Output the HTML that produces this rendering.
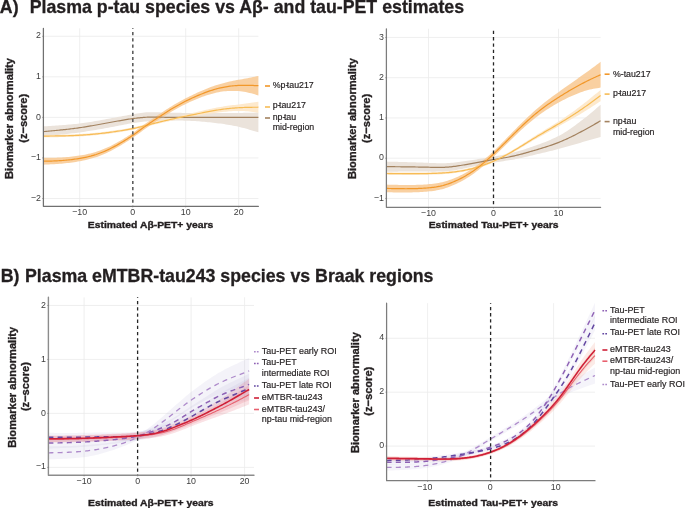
<!DOCTYPE html>
<html><head><meta charset="utf-8"><style>
html,body{margin:0;padding:0;background:#fff;}
body{width:685px;height:508px;overflow:hidden;}
svg{display:block;font-family:"Liberation Sans", sans-serif;will-change:transform;}
</style></head><body>
<svg width="685" height="508" viewBox="0 0 685 508">
<rect width="685" height="508" fill="#fff"/>
<text x="-0.2" y="12.8" font-size="17.75" font-weight="bold" fill="#231f20" stroke="#231f20" stroke-width="0.3">A)</text>
<text x="29.7" y="12.8" font-size="17.75" font-weight="bold" fill="#231f20" stroke="#231f20" stroke-width="0.3">Plasma p-tau species vs A&#946;- and tau-PET estimates</text>
<text x="0.7" y="281.5" font-size="17.75" font-weight="bold" fill="#231f20" stroke="#231f20" stroke-width="0.3">B)</text>
<text x="25.0" y="281.5" font-size="17.75" font-weight="bold" fill="#231f20" stroke="#231f20" stroke-width="0.3">Plasma eMTBR-tau243 species vs Braak regions</text>
<line x1="43.40" y1="198.50" x2="258.40" y2="198.50" stroke="#ebebeb" stroke-width="0.8"/>
<line x1="43.40" y1="157.95" x2="258.40" y2="157.95" stroke="#ebebeb" stroke-width="0.8"/>
<line x1="43.40" y1="117.40" x2="258.40" y2="117.40" stroke="#ebebeb" stroke-width="0.8"/>
<line x1="43.40" y1="76.85" x2="258.40" y2="76.85" stroke="#ebebeb" stroke-width="0.8"/>
<line x1="43.40" y1="36.30" x2="258.40" y2="36.30" stroke="#ebebeb" stroke-width="0.8"/>
<line x1="79.70" y1="28.30" x2="79.70" y2="206.30" stroke="#ebebeb" stroke-width="0.8"/>
<line x1="185.70" y1="28.30" x2="185.70" y2="206.30" stroke="#ebebeb" stroke-width="0.8"/>
<line x1="238.70" y1="28.30" x2="238.70" y2="206.30" stroke="#ebebeb" stroke-width="0.8"/>
<path d="M43.40 126.34L45.21 126.23L47.01 126.13L48.82 126.03L50.63 125.92L52.43 125.81L54.24 125.70L56.05 125.58L57.85 125.46L59.66 125.34L61.47 125.21L63.27 125.07L65.08 124.93L66.89 124.78L68.69 124.62L70.50 124.45L72.31 124.28L74.11 124.09L75.92 123.90L77.73 123.69L79.53 123.47L81.34 123.24L83.15 123.00L84.95 122.75L86.76 122.48L88.57 122.21L90.37 121.93L92.18 121.64L93.99 121.34L95.79 121.04L97.60 120.72L99.41 120.41L101.22 120.09L103.02 119.76L104.83 119.43L106.64 119.10L108.44 118.77L110.25 118.43L112.06 118.09L113.86 117.76L115.67 117.42L117.48 117.09L119.28 116.75L121.09 116.42L122.90 116.09L124.70 115.77L126.51 115.44L128.32 115.12L130.12 114.79L131.93 114.46L133.74 114.13L135.54 113.80L137.35 113.48L139.16 113.19L140.96 112.92L142.77 112.69L144.58 112.50L146.38 112.37L148.19 112.28L150.00 112.23L151.80 112.22L153.61 112.23L155.42 112.27L157.22 112.31L159.03 112.36L160.84 112.42L162.64 112.47L164.45 112.52L166.26 112.56L168.06 112.61L169.87 112.65L171.68 112.70L173.48 112.73L175.29 112.77L177.10 112.81L178.90 112.84L180.71 112.87L182.52 112.89L184.32 112.91L186.13 112.93L187.94 112.94L189.74 112.96L191.55 112.96L193.36 112.97L195.16 112.97L196.97 112.97L198.78 112.97L200.58 112.97L202.39 112.97L204.20 112.97L206.01 112.96L207.81 112.96L209.62 112.96L211.43 112.96L213.23 112.96L215.04 112.96L216.85 112.96L218.65 112.97L220.46 112.97L222.27 112.97L224.07 112.97L225.88 112.98L227.69 112.98L229.49 112.97L231.30 112.97L233.11 112.96L234.91 112.95L236.72 112.94L238.53 112.92L240.33 112.90L242.14 112.88L243.95 112.85L245.75 112.82L247.56 112.78L249.37 112.75L251.17 112.71L252.98 112.67L254.79 112.63L256.59 112.59L258.40 112.54L258.40 132.35L256.59 131.80L254.79 131.25L252.98 130.70L251.17 130.16L249.37 129.64L247.56 129.12L245.75 128.61L243.95 128.12L242.14 127.65L240.33 127.20L238.53 126.77L236.72 126.37L234.91 125.99L233.11 125.63L231.30 125.29L229.49 124.97L227.69 124.66L225.88 124.38L224.07 124.11L222.27 123.85L220.46 123.61L218.65 123.38L216.85 123.16L215.04 122.94L213.23 122.74L211.43 122.54L209.62 122.35L207.81 122.17L206.01 121.99L204.20 121.82L202.39 121.66L200.58 121.51L198.78 121.37L196.97 121.24L195.16 121.12L193.36 121.01L191.55 120.91L189.74 120.83L187.94 120.76L186.13 120.70L184.32 120.65L182.52 120.62L180.71 120.60L178.90 120.59L177.10 120.59L175.29 120.60L173.48 120.62L171.68 120.65L169.87 120.68L168.06 120.72L166.26 120.76L164.45 120.80L162.64 120.85L160.84 120.89L159.03 120.94L157.22 120.98L155.42 121.03L153.61 121.08L151.80 121.15L150.00 121.23L148.19 121.32L146.38 121.43L144.58 121.57L142.77 121.74L140.96 121.93L139.16 122.15L137.35 122.39L135.54 122.65L133.74 122.93L131.93 123.22L130.12 123.54L128.32 123.86L126.51 124.20L124.70 124.54L122.90 124.89L121.09 125.24L119.28 125.59L117.48 125.94L115.67 126.28L113.86 126.63L112.06 126.97L110.25 127.31L108.44 127.64L106.64 127.98L104.83 128.31L103.02 128.63L101.22 128.95L99.41 129.27L97.60 129.58L95.79 129.89L93.99 130.19L92.18 130.49L90.37 130.79L88.57 131.07L86.76 131.35L84.95 131.63L83.15 131.90L81.34 132.16L79.53 132.41L77.73 132.66L75.92 132.90L74.11 133.13L72.31 133.36L70.50 133.58L68.69 133.80L66.89 134.01L65.08 134.22L63.27 134.42L61.47 134.62L59.66 134.81L57.85 135.01L56.05 135.19L54.24 135.38L52.43 135.57L50.63 135.75L48.82 135.93L47.01 136.11L45.21 136.29L43.40 136.47Z" fill="#ebe3db" stroke="none"/>
<path d="M43.40 134.85L45.21 134.84L47.01 134.82L48.82 134.81L50.63 134.80L52.43 134.78L54.24 134.76L56.05 134.74L57.85 134.72L59.66 134.69L61.47 134.66L63.27 134.62L65.08 134.58L66.89 134.53L68.69 134.48L70.50 134.42L72.31 134.36L74.11 134.29L75.92 134.21L77.73 134.12L79.53 134.02L81.34 133.92L83.15 133.80L84.95 133.68L86.76 133.55L88.57 133.41L90.37 133.26L92.18 133.10L93.99 132.93L95.79 132.76L97.60 132.57L99.41 132.38L101.22 132.18L103.02 131.97L104.83 131.75L106.64 131.53L108.44 131.29L110.25 131.05L112.06 130.80L113.86 130.55L115.67 130.29L117.48 130.02L119.28 129.74L121.09 129.46L122.90 129.18L124.70 128.89L126.51 128.58L128.32 128.26L130.12 127.93L131.93 127.57L133.74 127.20L135.54 126.81L137.35 126.39L139.16 125.96L140.96 125.52L142.77 125.06L144.58 124.59L146.38 124.12L148.19 123.64L150.00 123.16L151.80 122.68L153.61 122.20L155.42 121.73L157.22 121.26L159.03 120.80L160.84 120.34L162.64 119.89L164.45 119.45L166.26 119.01L168.06 118.58L169.87 118.15L171.68 117.73L173.48 117.31L175.29 116.89L177.10 116.48L178.90 116.07L180.71 115.67L182.52 115.27L184.32 114.87L186.13 114.47L187.94 114.07L189.74 113.66L191.55 113.25L193.36 112.84L195.16 112.42L196.97 112.00L198.78 111.57L200.58 111.15L202.39 110.72L204.20 110.29L206.01 109.87L207.81 109.45L209.62 109.05L211.43 108.65L213.23 108.27L215.04 107.91L216.85 107.57L218.65 107.24L220.46 106.92L222.27 106.63L224.07 106.34L225.88 106.07L227.69 105.81L229.49 105.57L231.30 105.33L233.11 105.11L234.91 104.89L236.72 104.68L238.53 104.49L240.33 104.29L242.14 104.07L243.95 103.85L245.75 103.61L247.56 103.37L249.37 103.11L251.17 102.85L252.98 102.58L254.79 102.31L256.59 102.03L258.40 101.75L258.40 112.70L256.59 112.45L254.79 112.20L252.98 111.97L251.17 111.75L249.37 111.54L247.56 111.37L245.75 111.21L243.95 111.09L242.14 111.01L240.33 110.96L238.53 110.96L236.72 110.99L234.91 111.04L233.11 111.12L231.30 111.22L229.49 111.34L227.69 111.48L225.88 111.64L224.07 111.82L222.27 112.02L220.46 112.23L218.65 112.45L216.85 112.69L215.04 112.94L213.23 113.20L211.43 113.47L209.62 113.75L207.81 114.03L206.01 114.32L204.20 114.61L202.39 114.90L200.58 115.20L198.78 115.50L196.97 115.80L195.16 116.11L193.36 116.42L191.55 116.73L189.74 117.05L187.94 117.38L186.13 117.73L184.32 118.07L182.52 118.43L180.71 118.78L178.90 119.14L177.10 119.51L175.29 119.88L173.48 120.25L171.68 120.63L169.87 121.02L168.06 121.41L166.26 121.80L164.45 122.21L162.64 122.62L160.84 123.03L159.03 123.46L157.22 123.89L155.42 124.33L153.61 124.78L151.80 125.23L150.00 125.69L148.19 126.16L146.38 126.62L144.58 127.07L142.77 127.53L140.96 127.97L139.16 128.41L137.35 128.83L135.54 129.24L133.74 129.63L131.93 130.01L130.12 130.36L128.32 130.69L126.51 131.01L124.70 131.32L122.90 131.61L121.09 131.90L119.28 132.18L117.48 132.45L115.67 132.72L113.86 132.98L112.06 133.24L110.25 133.48L108.44 133.73L106.64 133.96L104.83 134.19L103.02 134.40L101.22 134.61L99.41 134.81L97.60 135.01L95.79 135.19L93.99 135.37L92.18 135.53L90.37 135.69L88.57 135.84L86.76 135.98L84.95 136.11L83.15 136.24L81.34 136.35L79.53 136.46L77.73 136.55L75.92 136.64L74.11 136.72L72.31 136.79L70.50 136.86L68.69 136.92L66.89 136.97L65.08 137.01L63.27 137.06L61.47 137.09L59.66 137.12L57.85 137.15L56.05 137.17L54.24 137.20L52.43 137.21L50.63 137.23L48.82 137.24L47.01 137.26L45.21 137.27L43.40 137.28Z" fill="#fde7c8" fill-opacity="0.9" stroke="none"/>
<path d="M43.40 157.79L45.21 157.78L47.01 157.78L48.82 157.77L50.63 157.75L52.43 157.73L54.24 157.70L56.05 157.66L57.85 157.60L59.66 157.53L61.47 157.45L63.27 157.35L65.08 157.23L66.89 157.09L68.69 156.94L70.50 156.76L72.31 156.57L74.11 156.36L75.92 156.12L77.73 155.87L79.53 155.59L81.34 155.29L83.15 154.97L84.95 154.63L86.76 154.26L88.57 153.86L90.37 153.43L92.18 152.96L93.99 152.46L95.79 151.92L97.60 151.34L99.41 150.72L101.22 150.06L103.02 149.36L104.83 148.61L106.64 147.83L108.44 147.00L110.25 146.14L112.06 145.24L113.86 144.30L115.67 143.32L117.48 142.32L119.28 141.30L121.09 140.25L122.90 139.17L124.70 138.08L126.51 136.97L128.32 135.82L130.12 134.65L131.93 133.44L133.74 132.20L135.54 130.92L137.35 129.61L139.16 128.29L140.96 126.96L142.77 125.62L144.58 124.30L146.38 123.00L148.19 121.71L150.00 120.45L151.80 119.21L153.61 117.98L155.42 116.76L157.22 115.55L159.03 114.35L160.84 113.14L162.64 111.95L164.45 110.76L166.26 109.59L168.06 108.43L169.87 107.30L171.68 106.18L173.48 105.10L175.29 104.03L177.10 102.99L178.90 101.97L180.71 100.98L182.52 100.00L184.32 99.05L186.13 98.11L187.94 97.20L189.74 96.30L191.55 95.42L193.36 94.55L195.16 93.70L196.97 92.86L198.78 92.05L200.58 91.24L202.39 90.46L204.20 89.69L206.01 88.94L207.81 88.22L209.62 87.52L211.43 86.85L213.23 86.21L215.04 85.60L216.85 85.01L218.65 84.45L220.46 83.91L222.27 83.39L224.07 82.90L225.88 82.43L227.69 81.99L229.49 81.56L231.30 81.16L233.11 80.78L234.91 80.43L236.72 80.09L238.53 79.78L240.33 79.47L242.14 79.16L243.95 78.84L245.75 78.51L247.56 78.17L249.37 77.82L251.17 77.47L252.98 77.11L254.79 76.73L256.59 76.36L258.40 75.97L258.40 95.43L256.59 94.89L254.79 94.35L252.98 93.84L251.17 93.35L249.37 92.89L247.56 92.47L245.75 92.09L243.95 91.75L242.14 91.47L240.33 91.25L238.53 91.09L236.72 90.98L234.91 90.91L233.11 90.88L231.30 90.89L229.49 90.95L227.69 91.04L225.88 91.18L224.07 91.37L222.27 91.59L220.46 91.87L218.65 92.18L216.85 92.55L215.04 92.96L213.23 93.41L211.43 93.91L209.62 94.44L207.81 95.00L206.01 95.59L204.20 96.22L202.39 96.87L200.58 97.54L198.78 98.24L196.97 98.97L195.16 99.71L193.36 100.48L191.55 101.27L189.74 102.09L187.94 102.93L186.13 103.80L184.32 104.69L182.52 105.61L180.71 106.55L178.90 107.51L177.10 108.50L175.29 109.52L173.48 110.55L171.68 111.62L169.87 112.71L168.06 113.82L166.26 114.96L164.45 116.11L162.64 117.27L160.84 118.44L159.03 119.61L157.22 120.79L155.42 121.97L153.61 123.15L151.80 124.34L150.00 125.55L148.19 126.78L146.38 128.02L144.58 129.29L142.77 130.59L140.96 131.89L139.16 133.20L137.35 134.50L135.54 135.80L133.74 137.07L131.93 138.31L130.12 139.52L128.32 140.70L126.51 141.85L124.70 142.98L122.90 144.08L121.09 145.17L119.28 146.24L117.48 147.28L115.67 148.31L113.86 149.30L112.06 150.27L110.25 151.20L108.44 152.10L106.64 152.95L104.83 153.77L103.02 154.54L101.22 155.28L99.41 155.98L97.60 156.63L95.79 157.25L93.99 157.83L92.18 158.37L90.37 158.87L88.57 159.34L86.76 159.78L84.95 160.19L83.15 160.58L81.34 160.94L79.53 161.27L77.73 161.59L75.92 161.89L74.11 162.17L72.31 162.43L70.50 162.68L68.69 162.90L66.89 163.11L65.08 163.31L63.27 163.49L61.47 163.65L59.66 163.80L57.85 163.93L56.05 164.05L54.24 164.16L52.43 164.26L50.63 164.36L48.82 164.44L47.01 164.52L45.21 164.60L43.40 164.68Z" fill="#f8c890" fill-opacity="0.85" stroke="none"/>
<path d="M43.40 131.61L44.75 131.48L46.10 131.36L47.46 131.24L48.81 131.12L50.16 131.00L51.51 130.88L52.87 130.75L54.22 130.63L55.57 130.50L56.92 130.37L58.27 130.24L59.63 130.10L60.98 129.97L62.33 129.83L63.68 129.69L65.04 129.54L66.39 129.39L67.74 129.24L69.09 129.09L70.44 128.93L71.80 128.76L73.15 128.59L74.50 128.42L75.85 128.24L77.21 128.06L78.56 127.87L79.91 127.68L81.26 127.48L82.61 127.28L83.97 127.07L85.32 126.86L86.67 126.64L88.02 126.42L89.37 126.19L90.73 125.96L92.08 125.73L93.43 125.49L94.78 125.25L96.14 125.01L97.49 124.77L98.84 124.52L100.19 124.27L101.54 124.03L102.90 123.78L104.25 123.52L105.60 123.27L106.95 123.02L108.31 122.77L109.66 122.52L111.01 122.26L112.36 122.01L113.71 121.76L115.07 121.52L116.42 121.27L117.77 121.03L119.12 120.79L120.48 120.55L121.83 120.31L123.18 120.08L124.53 119.85L125.88 119.63L127.24 119.42L128.59 119.21L129.94 119.00L131.29 118.81L132.65 118.62L134.00 118.43L135.35 118.26L136.70 118.10L138.05 117.94L139.41 117.80L140.76 117.67L142.11 117.55L143.46 117.44L144.82 117.34L146.17 117.26L147.52 117.20L148.87 117.15L150.22 117.11L151.58 117.09L152.93 117.08L154.28 117.08L155.63 117.10L156.98 117.11L158.34 117.14L159.69 117.17L161.04 117.20L162.39 117.23L163.75 117.26L165.10 117.29L166.45 117.32L167.80 117.34L169.15 117.36L170.51 117.37L171.86 117.39L173.21 117.40L174.56 117.40L175.92 117.41L177.27 117.41L178.62 117.42L179.97 117.42L181.32 117.42L182.68 117.42L184.03 117.42L185.38 117.42L186.73 117.41L188.09 117.41L189.44 117.41L190.79 117.41L192.14 117.41L193.49 117.41L194.85 117.41L196.20 117.41L197.55 117.41L198.90 117.41L200.26 117.40L201.61 117.40L202.96 117.40L204.31 117.40L205.66 117.40L207.02 117.40L208.37 117.40L209.72 117.40L211.07 117.40L212.43 117.40L213.78 117.40L215.13 117.40L216.48 117.40L217.83 117.40L219.19 117.40L220.54 117.40L221.89 117.40L223.24 117.40L224.59 117.40L225.95 117.40L227.30 117.40L228.65 117.40L230.00 117.40L231.36 117.40L232.71 117.40L234.06 117.40L235.41 117.40L236.76 117.40L238.12 117.40L239.47 117.40L240.82 117.40L242.17 117.40L243.53 117.40L244.88 117.40L246.23 117.40L247.58 117.40L248.93 117.40L250.29 117.40L251.64 117.40L252.99 117.40L254.34 117.40L255.70 117.40L257.05 117.40L258.40 117.40" fill="none" stroke="#a3825f" stroke-width="1.2" stroke-linejoin="round"/>
<path d="M43.40 136.06L44.75 136.06L46.10 136.05L47.46 136.04L48.81 136.03L50.16 136.02L51.51 136.01L52.87 135.99L54.22 135.98L55.57 135.96L56.92 135.95L58.27 135.93L59.63 135.91L60.98 135.88L62.33 135.86L63.68 135.83L65.04 135.80L66.39 135.76L67.74 135.73L69.09 135.69L70.44 135.64L71.80 135.59L73.15 135.54L74.50 135.49L75.85 135.43L77.21 135.36L78.56 135.29L79.91 135.22L81.26 135.14L82.61 135.05L83.97 134.96L85.32 134.87L86.67 134.77L88.02 134.67L89.37 134.56L90.73 134.44L92.08 134.33L93.43 134.20L94.78 134.07L96.14 133.94L97.49 133.80L98.84 133.66L100.19 133.51L101.54 133.36L102.90 133.20L104.25 133.04L105.60 132.87L106.95 132.70L108.31 132.53L109.66 132.35L111.01 132.16L112.36 131.98L113.71 131.78L115.07 131.59L116.42 131.39L117.77 131.19L119.12 130.98L120.48 130.78L121.83 130.57L123.18 130.35L124.53 130.13L125.88 129.90L127.24 129.67L128.59 129.43L129.94 129.18L131.29 128.92L132.65 128.65L134.00 128.36L135.35 128.07L136.70 127.76L138.05 127.45L139.41 127.12L140.76 126.79L142.11 126.46L143.46 126.12L144.82 125.77L146.17 125.42L147.52 125.07L148.87 124.72L150.22 124.37L151.58 124.01L152.93 123.66L154.28 123.32L155.63 122.97L156.98 122.63L158.34 122.30L159.69 121.97L161.04 121.64L162.39 121.31L163.75 120.99L165.10 120.68L166.45 120.36L167.80 120.05L169.15 119.75L170.51 119.44L171.86 119.14L173.21 118.84L174.56 118.54L175.92 118.25L177.27 117.96L178.62 117.67L179.97 117.38L181.32 117.10L182.68 116.81L184.03 116.53L185.38 116.25L186.73 115.97L188.09 115.70L189.44 115.42L190.79 115.15L192.14 114.87L193.49 114.60L194.85 114.33L196.20 114.06L197.55 113.78L198.90 113.51L200.26 113.24L201.61 112.97L202.96 112.70L204.31 112.43L205.66 112.16L207.02 111.89L208.37 111.63L209.72 111.38L211.07 111.13L212.43 110.88L213.78 110.64L215.13 110.41L216.48 110.19L217.83 109.97L219.19 109.76L220.54 109.56L221.89 109.37L223.24 109.19L224.59 109.02L225.95 108.85L227.30 108.69L228.65 108.54L230.00 108.40L231.36 108.27L232.71 108.15L234.06 108.03L235.41 107.93L236.76 107.83L238.12 107.75L239.47 107.67L240.82 107.60L242.17 107.54L243.53 107.49L244.88 107.44L246.23 107.40L247.58 107.37L248.93 107.34L250.29 107.31L251.64 107.29L252.99 107.27L254.34 107.26L255.70 107.25L257.05 107.24L258.40 107.22" fill="none" stroke="#f7bc55" stroke-width="1.2" stroke-linejoin="round"/>
<path d="M43.40 161.24L44.75 161.20L46.10 161.17L47.46 161.14L48.81 161.11L50.16 161.07L51.51 161.03L52.87 160.98L54.22 160.93L55.57 160.87L56.92 160.81L58.27 160.74L59.63 160.67L60.98 160.58L62.33 160.49L63.68 160.39L65.04 160.27L66.39 160.15L67.74 160.02L69.09 159.88L70.44 159.73L71.80 159.56L73.15 159.39L74.50 159.21L75.85 159.01L77.21 158.81L78.56 158.59L79.91 158.37L81.26 158.13L82.61 157.88L83.97 157.61L85.32 157.34L86.67 157.04L88.02 156.73L89.37 156.40L90.73 156.06L92.08 155.69L93.43 155.31L94.78 154.90L96.14 154.48L97.49 154.03L98.84 153.55L100.19 153.06L101.54 152.54L102.90 152.00L104.25 151.44L105.60 150.85L106.95 150.25L108.31 149.62L109.66 148.96L111.01 148.29L112.36 147.59L113.71 146.88L115.07 146.15L116.42 145.40L117.77 144.64L119.12 143.86L120.48 143.07L121.83 142.27L123.18 141.46L124.53 140.63L125.88 139.80L127.24 138.95L128.59 138.09L129.94 137.21L131.29 136.31L132.65 135.39L134.00 134.45L135.35 133.50L136.70 132.53L138.05 131.55L139.41 130.56L140.76 129.57L142.11 128.59L143.46 127.60L144.82 126.63L146.17 125.66L147.52 124.71L148.87 123.77L150.22 122.85L151.58 121.93L152.93 121.02L154.28 120.12L155.63 119.22L156.98 118.33L158.34 117.44L159.69 116.55L161.04 115.66L162.39 114.77L163.75 113.89L165.10 113.02L166.45 112.15L167.80 111.29L169.15 110.45L170.51 109.61L171.86 108.79L173.21 107.99L174.56 107.19L175.92 106.42L177.27 105.65L178.62 104.90L179.97 104.16L181.32 103.44L182.68 102.72L184.03 102.02L185.38 101.33L186.73 100.66L188.09 99.99L189.44 99.34L190.79 98.70L192.14 98.07L193.49 97.45L194.85 96.85L196.20 96.25L197.55 95.67L198.90 95.09L200.26 94.53L201.61 93.98L202.96 93.44L204.31 92.91L205.66 92.40L207.02 91.90L208.37 91.41L209.72 90.94L211.07 90.49L212.43 90.06L213.78 89.65L215.13 89.25L216.48 88.88L217.83 88.52L219.19 88.19L220.54 87.87L221.89 87.57L223.24 87.30L224.59 87.04L225.95 86.80L227.30 86.58L228.65 86.37L230.00 86.19L231.36 86.02L232.71 85.87L234.06 85.74L235.41 85.63L236.76 85.53L238.12 85.45L239.47 85.39L240.82 85.35L242.17 85.32L243.53 85.30L244.88 85.29L246.23 85.30L247.58 85.32L248.93 85.35L250.29 85.38L251.64 85.43L252.99 85.47L254.34 85.53L255.70 85.58L257.05 85.64L258.40 85.70" fill="none" stroke="#f2982a" stroke-width="1.2" stroke-linejoin="round"/>
<line x1="132.80" y1="28.30" x2="132.80" y2="206.30" stroke="#5e5e5e" stroke-width="1.6" stroke-dasharray="3.2 3.0" stroke-dashoffset="2.40"/>
<path d="M43.40 28.30 L43.40 206.30 L258.40 206.30" fill="none" stroke="#707070" stroke-width="1.25" stroke-linejoin="round" stroke-linecap="round"/>
<line x1="42.40" y1="198.50" x2="43.40" y2="198.50" stroke="#707070" stroke-width="0.8"/>
<text transform="translate(41.00 200.60) scale(1 1.05)" text-anchor="end" font-size="8.85" fill="#3c3c3c">&#8722;2</text>
<line x1="42.40" y1="157.95" x2="43.40" y2="157.95" stroke="#707070" stroke-width="0.8"/>
<text transform="translate(41.00 160.05) scale(1 1.05)" text-anchor="end" font-size="8.85" fill="#3c3c3c">&#8722;1</text>
<line x1="42.40" y1="117.40" x2="43.40" y2="117.40" stroke="#707070" stroke-width="0.8"/>
<text transform="translate(41.00 119.50) scale(1 1.05)" text-anchor="end" font-size="8.85" fill="#3c3c3c">0</text>
<line x1="42.40" y1="76.85" x2="43.40" y2="76.85" stroke="#707070" stroke-width="0.8"/>
<text transform="translate(41.00 78.95) scale(1 1.05)" text-anchor="end" font-size="8.85" fill="#3c3c3c">1</text>
<line x1="42.40" y1="36.30" x2="43.40" y2="36.30" stroke="#707070" stroke-width="0.8"/>
<text transform="translate(41.00 38.40) scale(1 1.05)" text-anchor="end" font-size="8.85" fill="#3c3c3c">2</text>
<line x1="79.70" y1="206.30" x2="79.70" y2="207.30" stroke="#707070" stroke-width="0.8"/>
<text transform="translate(79.70 215.20) scale(1 1.05)" text-anchor="middle" font-size="8.85" fill="#3c3c3c">&#8722;10</text>
<line x1="132.70" y1="206.30" x2="132.70" y2="207.30" stroke="#707070" stroke-width="0.8"/>
<text transform="translate(132.70 215.20) scale(1 1.05)" text-anchor="middle" font-size="8.85" fill="#3c3c3c">0</text>
<line x1="185.70" y1="206.30" x2="185.70" y2="207.30" stroke="#707070" stroke-width="0.8"/>
<text transform="translate(185.70 215.20) scale(1 1.05)" text-anchor="middle" font-size="8.85" fill="#3c3c3c">10</text>
<line x1="238.70" y1="206.30" x2="238.70" y2="207.30" stroke="#707070" stroke-width="0.8"/>
<text transform="translate(238.70 215.20) scale(1 1.05)" text-anchor="middle" font-size="8.85" fill="#3c3c3c">20</text>
<line x1="265.00" y1="86.00" x2="270.00" y2="86.00" stroke="#f2982a" stroke-width="1.6"/>
<text transform="translate(272.70 88.00) scale(1 1.04)" font-size="8.8" fill="#231f20" stroke="#231f20" stroke-width="0.18">%p-<tspan dx="-1.5">tau</tspan>217</text>
<line x1="265.00" y1="107.00" x2="270.00" y2="107.00" stroke="#f7bc55" stroke-width="1.6"/>
<text transform="translate(272.70 108.00) scale(1 1.04)" font-size="8.8" fill="#231f20" stroke="#231f20" stroke-width="0.18">p-<tspan dx="-1.5">tau</tspan>217</text>
<line x1="265.00" y1="118.00" x2="270.00" y2="118.00" stroke="#a3825f" stroke-width="1.6"/>
<text transform="translate(272.70 120.00) scale(1 1.04)" font-size="8.8" fill="#231f20" stroke="#231f20" stroke-width="0.18">np-<tspan dx="-1.5">tau</tspan></text>
<text transform="translate(272.70 130.30) scale(1 1.04)" font-size="8.8" fill="#231f20" stroke="#231f20" stroke-width="0.18">mid-region</text>
<text transform="translate(13.30 118.50) rotate(-90)" text-anchor="middle" font-size="11.1" font-weight="bold" fill="#231f20" stroke="#231f20" stroke-width="0.35">Biomarker abnormality</text>
<text transform="translate(26.70 118.30) rotate(-90)" text-anchor="middle" font-size="11.1" font-weight="bold" fill="#231f20" stroke="#231f20" stroke-width="0.35">(z&#8722;score)</text>
<text transform="translate(150.60 228.00) scale(1 0.93)" text-anchor="middle" font-size="10.38" font-weight="bold" fill="#231f20" stroke="#231f20" stroke-width="0.4">Estimated A&#946;-PET+ years</text>
<line x1="386.40" y1="198.45" x2="600.60" y2="198.45" stroke="#ebebeb" stroke-width="0.8"/>
<line x1="386.40" y1="158.20" x2="600.60" y2="158.20" stroke="#ebebeb" stroke-width="0.8"/>
<line x1="386.40" y1="117.95" x2="600.60" y2="117.95" stroke="#ebebeb" stroke-width="0.8"/>
<line x1="386.40" y1="77.70" x2="600.60" y2="77.70" stroke="#ebebeb" stroke-width="0.8"/>
<line x1="386.40" y1="37.45" x2="600.60" y2="37.45" stroke="#ebebeb" stroke-width="0.8"/>
<line x1="428.50" y1="28.80" x2="428.50" y2="207.30" stroke="#ebebeb" stroke-width="0.8"/>
<line x1="558.50" y1="28.80" x2="558.50" y2="207.30" stroke="#ebebeb" stroke-width="0.8"/>
<path d="M386.40 161.62L388.20 161.66L390.00 161.70L391.80 161.74L393.60 161.78L395.40 161.82L397.20 161.86L399.00 161.91L400.80 161.95L402.60 162.00L404.40 162.05L406.20 162.10L408.00 162.15L409.80 162.20L411.60 162.25L413.40 162.31L415.20 162.36L417.00 162.42L418.80 162.48L420.60 162.54L422.40 162.61L424.20 162.68L426.00 162.75L427.80 162.82L429.60 162.89L431.40 162.97L433.20 163.04L435.00 163.10L436.80 163.16L438.60 163.20L440.40 163.22L442.20 163.22L444.00 163.20L445.80 163.15L447.60 163.06L449.40 162.95L451.20 162.81L453.00 162.65L454.80 162.46L456.60 162.26L458.40 162.04L460.20 161.81L462.00 161.56L463.80 161.31L465.60 161.05L467.40 160.78L469.20 160.51L471.00 160.23L472.80 159.96L474.60 159.67L476.40 159.39L478.20 159.10L480.00 158.81L481.80 158.51L483.60 158.22L485.40 157.92L487.20 157.62L489.00 157.32L490.80 157.03L492.60 156.73L494.40 156.43L496.20 156.13L498.00 155.82L499.80 155.51L501.60 155.18L503.40 154.84L505.20 154.48L507.00 154.10L508.80 153.70L510.60 153.28L512.40 152.83L514.20 152.35L516.00 151.86L517.80 151.34L519.60 150.81L521.40 150.26L523.20 149.70L525.00 149.13L526.80 148.55L528.60 147.96L530.40 147.35L532.20 146.73L534.00 146.11L535.80 145.47L537.60 144.83L539.40 144.17L541.20 143.51L543.00 142.82L544.80 142.13L546.60 141.41L548.40 140.67L550.20 139.90L552.00 139.12L553.80 138.30L555.60 137.46L557.40 136.58L559.20 135.67L561.00 134.70L562.80 133.68L564.60 132.59L566.40 131.46L568.20 130.27L570.00 129.05L571.80 127.79L573.60 126.50L575.40 125.19L577.20 123.85L579.00 122.49L580.80 121.12L582.60 119.74L584.40 118.33L586.20 116.90L588.00 115.44L589.80 113.96L591.60 112.46L593.40 110.94L595.20 109.40L597.00 107.85L598.80 106.29L600.60 104.72L600.60 136.92L598.80 137.40L597.00 137.89L595.20 138.39L593.40 138.90L591.60 139.42L589.80 139.94L588.00 140.47L586.20 141.01L584.40 141.55L582.60 142.10L580.80 142.65L579.00 143.20L577.20 143.73L575.40 144.24L573.60 144.75L571.80 145.25L570.00 145.75L568.20 146.24L566.40 146.73L564.60 147.22L562.80 147.71L561.00 148.21L559.20 148.71L557.40 149.22L555.60 149.72L553.80 150.20L552.00 150.67L550.20 151.12L548.40 151.57L546.60 152.00L544.80 152.43L543.00 152.86L541.20 153.28L539.40 153.70L537.60 154.12L535.80 154.54L534.00 154.96L532.20 155.39L530.40 155.82L528.60 156.24L526.80 156.67L525.00 157.09L523.20 157.51L521.40 157.91L519.60 158.30L517.80 158.67L516.00 159.03L514.20 159.38L512.40 159.71L510.60 160.03L508.80 160.32L507.00 160.60L505.20 160.87L503.40 161.14L501.60 161.40L499.80 161.65L498.00 161.92L496.20 162.19L494.40 162.47L492.60 162.77L490.80 163.08L489.00 163.40L487.20 163.74L485.40 164.08L483.60 164.43L481.80 164.80L480.00 165.16L478.20 165.54L476.40 165.91L474.60 166.29L472.80 166.67L471.00 167.05L469.20 167.43L467.40 167.80L465.60 168.18L463.80 168.54L462.00 168.90L460.20 169.25L458.40 169.59L456.60 169.91L454.80 170.20L453.00 170.48L451.20 170.73L449.40 170.94L447.60 171.13L445.80 171.28L444.00 171.40L442.20 171.49L440.40 171.55L438.60 171.60L436.80 171.62L435.00 171.63L433.20 171.63L431.40 171.63L429.60 171.62L427.80 171.60L426.00 171.60L424.20 171.59L422.40 171.58L420.60 171.58L418.80 171.58L417.00 171.58L415.20 171.58L413.40 171.58L411.60 171.58L409.80 171.58L408.00 171.59L406.20 171.59L404.40 171.60L402.60 171.61L400.80 171.61L399.00 171.62L397.20 171.63L395.40 171.64L393.60 171.65L391.80 171.66L390.00 171.66L388.20 171.67L386.40 171.68Z" fill="#ebe3db" stroke="none"/>
<path d="M386.40 172.30L388.20 172.32L390.00 172.34L391.80 172.36L393.60 172.38L395.40 172.40L397.20 172.42L399.00 172.44L400.80 172.45L402.60 172.47L404.40 172.48L406.20 172.49L408.00 172.49L409.80 172.50L411.60 172.50L413.40 172.50L415.20 172.49L417.00 172.48L418.80 172.47L420.60 172.45L422.40 172.43L424.20 172.41L426.00 172.38L427.80 172.34L429.60 172.30L431.40 172.25L433.20 172.20L435.00 172.14L436.80 172.07L438.60 171.99L440.40 171.90L442.20 171.79L444.00 171.68L445.80 171.55L447.60 171.40L449.40 171.24L451.20 171.06L453.00 170.86L454.80 170.65L456.60 170.41L458.40 170.15L460.20 169.87L462.00 169.57L463.80 169.24L465.60 168.88L467.40 168.50L469.20 168.10L471.00 167.66L472.80 167.20L474.60 166.72L476.40 166.20L478.20 165.66L480.00 165.10L481.80 164.50L483.60 163.88L485.40 163.23L487.20 162.56L489.00 161.86L490.80 161.13L492.60 160.37L494.40 159.58L496.20 158.76L498.00 157.92L499.80 157.05L501.60 156.14L503.40 155.22L505.20 154.26L507.00 153.28L508.80 152.27L510.60 151.24L512.40 150.18L514.20 149.11L516.00 148.01L517.80 146.90L519.60 145.78L521.40 144.65L523.20 143.50L525.00 142.35L526.80 141.20L528.60 140.05L530.40 138.90L532.20 137.75L534.00 136.61L535.80 135.47L537.60 134.35L539.40 133.23L541.20 132.13L543.00 131.02L544.80 129.92L546.60 128.82L548.40 127.72L550.20 126.63L552.00 125.53L553.80 124.42L555.60 123.31L557.40 122.20L559.20 121.07L561.00 119.93L562.80 118.75L564.60 117.55L566.40 116.33L568.20 115.08L570.00 113.82L571.80 112.53L573.60 111.22L575.40 109.90L577.20 108.56L579.00 107.21L580.80 105.85L582.60 104.47L584.40 103.08L586.20 101.67L588.00 100.24L589.80 98.79L591.60 97.33L593.40 95.86L595.20 94.37L597.00 92.88L598.80 91.38L600.60 89.88L600.60 101.15L598.80 102.33L597.00 103.51L595.20 104.70L593.40 105.87L591.60 107.04L589.80 108.20L588.00 109.35L586.20 110.49L584.40 111.62L582.60 112.73L580.80 113.83L579.00 114.90L577.20 115.96L575.40 117.00L573.60 118.02L571.80 119.03L570.00 120.03L568.20 121.01L566.40 122.00L564.60 122.98L562.80 123.97L561.00 124.96L559.20 125.95L557.40 126.96L555.60 127.96L553.80 128.95L552.00 129.95L550.20 130.94L548.40 131.93L546.60 132.92L544.80 133.92L543.00 134.92L541.20 135.93L539.40 136.94L537.60 137.97L535.80 139.00L534.00 140.05L532.20 141.11L530.40 142.17L528.60 143.25L526.80 144.33L525.00 145.41L523.20 146.49L521.40 147.57L519.60 148.64L517.80 149.71L516.00 150.77L514.20 151.81L512.40 152.84L510.60 153.85L508.80 154.85L507.00 155.82L505.20 156.77L503.40 157.70L501.60 158.60L499.80 159.49L498.00 160.35L496.20 161.18L494.40 162.00L492.60 162.78L490.80 163.54L489.00 164.27L487.20 164.97L485.40 165.65L483.60 166.30L481.80 166.92L480.00 167.51L478.20 168.08L476.40 168.62L474.60 169.13L472.80 169.62L471.00 170.08L469.20 170.51L467.40 170.92L465.60 171.30L463.80 171.65L462.00 171.98L460.20 172.29L458.40 172.57L456.60 172.82L454.80 173.06L453.00 173.28L451.20 173.48L449.40 173.66L447.60 173.82L445.80 173.96L444.00 174.09L442.20 174.21L440.40 174.31L438.60 174.40L436.80 174.48L435.00 174.55L433.20 174.62L431.40 174.67L429.60 174.72L427.80 174.76L426.00 174.79L424.20 174.82L422.40 174.85L420.60 174.87L418.80 174.88L417.00 174.90L415.20 174.91L413.40 174.91L411.60 174.91L409.80 174.91L408.00 174.91L406.20 174.90L404.40 174.89L402.60 174.88L400.80 174.87L399.00 174.85L397.20 174.83L395.40 174.82L393.60 174.80L391.80 174.78L390.00 174.76L388.20 174.73L386.40 174.71Z" fill="#fde7c8" fill-opacity="0.9" stroke="none"/>
<path d="M386.40 184.60L388.20 184.64L390.00 184.69L391.80 184.74L393.60 184.78L395.40 184.82L397.20 184.86L399.00 184.89L400.80 184.92L402.60 184.94L404.40 184.96L406.20 184.97L408.00 184.98L409.80 184.97L411.60 184.95L413.40 184.93L415.20 184.89L417.00 184.85L418.80 184.79L420.60 184.71L422.40 184.63L424.20 184.52L426.00 184.41L427.80 184.27L429.60 184.12L431.40 183.95L433.20 183.76L435.00 183.53L436.80 183.27L438.60 182.96L440.40 182.61L442.20 182.20L444.00 181.74L445.80 181.23L447.60 180.68L449.40 180.08L451.20 179.43L453.00 178.74L454.80 178.01L456.60 177.24L458.40 176.42L460.20 175.57L462.00 174.66L463.80 173.72L465.60 172.73L467.40 171.69L469.20 170.60L471.00 169.46L472.80 168.28L474.60 167.04L476.40 165.75L478.20 164.42L480.00 163.03L481.80 161.60L483.60 160.12L485.40 158.60L487.20 157.03L489.00 155.43L490.80 153.80L492.60 152.13L494.40 150.42L496.20 148.68L498.00 146.92L499.80 145.13L501.60 143.32L503.40 141.50L505.20 139.66L507.00 137.82L508.80 135.98L510.60 134.13L512.40 132.30L514.20 130.47L516.00 128.65L517.80 126.84L519.60 125.06L521.40 123.28L523.20 121.52L525.00 119.77L526.80 118.04L528.60 116.33L530.40 114.64L532.20 112.99L534.00 111.36L535.80 109.76L537.60 108.20L539.40 106.68L541.20 105.19L543.00 103.72L544.80 102.30L546.60 100.90L548.40 99.52L550.20 98.17L552.00 96.84L553.80 95.53L555.60 94.23L557.40 92.93L559.20 91.64L561.00 90.36L562.80 89.08L564.60 87.80L566.40 86.52L568.20 85.24L570.00 83.96L571.80 82.69L573.60 81.42L575.40 80.15L577.20 78.88L579.00 77.61L580.80 76.34L582.60 75.07L584.40 73.79L586.20 72.50L588.00 71.19L589.80 69.88L591.60 68.56L593.40 67.24L595.20 65.91L597.00 64.57L598.80 63.22L600.60 61.86L600.60 87.62L598.80 87.88L597.00 88.17L595.20 88.47L593.40 88.80L591.60 89.16L589.80 89.57L588.00 90.01L586.20 90.51L584.40 91.05L582.60 91.64L580.80 92.29L579.00 92.97L577.20 93.68L575.40 94.42L573.60 95.18L571.80 95.97L570.00 96.78L568.20 97.62L566.40 98.49L564.60 99.38L562.80 100.30L561.00 101.25L559.20 102.22L557.40 103.23L555.60 104.26L553.80 105.33L552.00 106.42L550.20 107.54L548.40 108.69L546.60 109.87L544.80 111.07L543.00 112.31L541.20 113.57L539.40 114.86L537.60 116.19L535.80 117.56L534.00 118.96L532.20 120.40L530.40 121.88L528.60 123.40L526.80 124.96L525.00 126.55L523.20 128.17L521.40 129.82L519.60 131.50L517.80 133.21L516.00 134.93L514.20 136.67L512.40 138.42L510.60 140.18L508.80 141.95L507.00 143.73L505.20 145.51L503.40 147.29L501.60 149.06L499.80 150.83L498.00 152.59L496.20 154.33L494.40 156.06L492.60 157.76L490.80 159.44L489.00 161.09L487.20 162.70L485.40 164.29L483.60 165.84L481.80 167.35L480.00 168.81L478.20 170.24L476.40 171.62L474.60 172.95L472.80 174.24L471.00 175.48L469.20 176.67L467.40 177.81L465.60 178.90L463.80 179.95L462.00 180.96L460.20 181.92L458.40 182.84L456.60 183.72L454.80 184.56L453.00 185.35L451.20 186.10L449.40 186.80L447.60 187.46L445.80 188.07L444.00 188.63L442.20 189.14L440.40 189.60L438.60 190.01L436.80 190.36L435.00 190.66L433.20 190.93L431.40 191.15L429.60 191.35L427.80 191.53L426.00 191.68L424.20 191.83L422.40 191.95L420.60 192.06L418.80 192.15L417.00 192.24L415.20 192.31L413.40 192.36L411.60 192.41L409.80 192.44L408.00 192.47L406.20 192.48L404.40 192.49L402.60 192.49L400.80 192.48L399.00 192.47L397.20 192.45L395.40 192.42L393.60 192.39L391.80 192.36L390.00 192.32L388.20 192.29L386.40 192.25Z" fill="#f8c890" fill-opacity="0.85" stroke="none"/>
<path d="M386.40 166.65L387.75 166.66L389.09 166.67L390.44 166.68L391.79 166.70L393.14 166.71L394.48 166.72L395.83 166.73L397.18 166.75L398.52 166.76L399.87 166.77L401.22 166.79L402.57 166.80L403.91 166.82L405.26 166.83L406.61 166.85L407.95 166.87L409.30 166.88L410.65 166.90L412.00 166.92L413.34 166.94L414.69 166.96L416.04 166.98L417.38 167.00L418.73 167.03L420.08 167.05L421.43 167.08L422.77 167.10L424.12 167.13L425.47 167.16L426.82 167.19L428.16 167.22L429.51 167.25L430.86 167.28L432.20 167.31L433.55 167.34L434.90 167.37L436.25 167.38L437.59 167.39L438.94 167.40L440.29 167.39L441.63 167.37L442.98 167.33L444.33 167.28L445.68 167.22L447.02 167.14L448.37 167.04L449.72 166.92L451.06 166.78L452.41 166.63L453.76 166.47L455.11 166.29L456.45 166.10L457.80 165.90L459.15 165.70L460.49 165.48L461.84 165.26L463.19 165.03L464.54 164.80L465.88 164.56L467.23 164.32L468.58 164.08L469.92 163.84L471.27 163.59L472.62 163.35L473.97 163.10L475.31 162.85L476.66 162.60L478.01 162.35L479.35 162.10L480.70 161.86L482.05 161.61L483.40 161.36L484.74 161.12L486.09 160.88L487.44 160.64L488.78 160.40L490.13 160.17L491.48 159.94L492.83 159.71L494.17 159.49L495.52 159.27L496.87 159.05L498.22 158.83L499.56 158.62L500.91 158.40L502.26 158.18L503.60 157.95L504.95 157.72L506.30 157.48L507.65 157.23L508.99 156.97L510.34 156.70L511.69 156.42L513.03 156.13L514.38 155.82L515.73 155.51L517.08 155.19L518.42 154.85L519.77 154.51L521.12 154.16L522.46 153.80L523.81 153.44L525.16 153.07L526.51 152.69L527.85 152.31L529.20 151.93L530.55 151.54L531.89 151.15L533.24 150.76L534.59 150.36L535.94 149.96L537.28 149.57L538.63 149.17L539.98 148.76L541.32 148.35L542.67 147.94L544.02 147.52L545.37 147.10L546.71 146.67L548.06 146.23L549.41 145.78L550.75 145.32L552.10 144.86L553.45 144.38L554.80 143.89L556.14 143.38L557.49 142.87L558.84 142.34L560.18 141.79L561.53 141.23L562.88 140.66L564.23 140.07L565.57 139.47L566.92 138.85L568.27 138.22L569.62 137.58L570.96 136.93L572.31 136.27L573.66 135.60L575.00 134.92L576.35 134.23L577.70 133.53L579.05 132.82L580.39 132.11L581.74 131.38L583.09 130.66L584.43 129.92L585.78 129.18L587.13 128.44L588.48 127.69L589.82 126.94L591.17 126.18L592.52 125.42L593.86 124.66L595.21 123.89L596.56 123.12L597.91 122.36L599.25 121.59L600.60 120.82" fill="none" stroke="#a3825f" stroke-width="1.2" stroke-linejoin="round"/>
<path d="M386.40 173.51L387.75 173.52L389.09 173.54L390.44 173.55L391.79 173.57L393.14 173.58L394.48 173.60L395.83 173.61L397.18 173.63L398.52 173.64L399.87 173.65L401.22 173.66L402.57 173.67L403.91 173.68L405.26 173.69L406.61 173.70L407.95 173.70L409.30 173.70L410.65 173.71L412.00 173.71L413.34 173.70L414.69 173.70L416.04 173.69L417.38 173.69L418.73 173.68L420.08 173.67L421.43 173.65L422.77 173.63L424.12 173.61L425.47 173.59L426.82 173.57L428.16 173.54L429.51 173.51L430.86 173.48L432.20 173.44L433.55 173.40L434.90 173.35L436.25 173.30L437.59 173.24L438.94 173.18L440.29 173.11L441.63 173.04L442.98 172.95L444.33 172.86L445.68 172.76L447.02 172.66L448.37 172.54L449.72 172.42L451.06 172.28L452.41 172.14L453.76 171.98L455.11 171.82L456.45 171.64L457.80 171.45L459.15 171.25L460.49 171.03L461.84 170.80L463.19 170.56L464.54 170.30L465.88 170.03L467.23 169.75L468.58 169.45L469.92 169.13L471.27 168.80L472.62 168.46L473.97 168.10L475.31 167.72L476.66 167.34L478.01 166.93L479.35 166.51L480.70 166.08L482.05 165.63L483.40 165.16L484.74 164.68L486.09 164.19L487.44 163.68L488.78 163.15L490.13 162.61L491.48 162.05L492.83 161.48L494.17 160.89L495.52 160.29L496.87 159.67L498.22 159.03L499.56 158.38L500.91 157.72L502.26 157.04L503.60 156.35L504.95 155.65L506.30 154.93L507.65 154.20L508.99 153.45L510.34 152.69L511.69 151.92L513.03 151.14L514.38 150.35L515.73 149.55L517.08 148.74L518.42 147.93L519.77 147.11L521.12 146.28L522.46 145.45L523.81 144.62L525.16 143.78L526.51 142.95L527.85 142.11L529.20 141.28L530.55 140.44L531.89 139.61L533.24 138.79L534.59 137.97L535.94 137.16L537.28 136.35L538.63 135.55L539.98 134.75L541.32 133.95L542.67 133.16L544.02 132.38L545.37 131.59L546.71 130.81L548.06 130.02L549.41 129.24L550.75 128.46L552.10 127.68L553.45 126.89L554.80 126.11L556.14 125.32L557.49 124.52L558.84 123.73L560.18 122.93L561.53 122.12L562.88 121.31L564.23 120.50L565.57 119.67L566.92 118.84L568.27 118.01L569.62 117.16L570.96 116.31L572.31 115.45L573.66 114.59L575.00 113.71L576.35 112.82L577.70 111.93L579.05 111.03L580.39 110.11L581.74 109.19L583.09 108.26L584.43 107.32L585.78 106.38L587.13 105.42L588.48 104.45L589.82 103.48L591.17 102.50L592.52 101.51L593.86 100.52L595.21 99.52L596.56 98.52L597.91 97.52L599.25 96.52L600.60 95.51" fill="none" stroke="#f7bc55" stroke-width="1.2" stroke-linejoin="round"/>
<path d="M386.40 188.42L387.75 188.45L389.09 188.49L390.44 188.52L391.79 188.55L393.14 188.58L394.48 188.60L395.83 188.63L397.18 188.65L398.52 188.67L399.87 188.69L401.22 188.70L402.57 188.72L403.91 188.72L405.26 188.73L406.61 188.73L407.95 188.72L409.30 188.71L410.65 188.70L412.00 188.67L413.34 188.65L414.69 188.61L416.04 188.57L417.38 188.53L418.73 188.47L420.08 188.41L421.43 188.34L422.77 188.27L424.12 188.18L425.47 188.09L426.82 187.98L428.16 187.87L429.51 187.75L430.86 187.61L432.20 187.46L433.55 187.30L434.90 187.11L436.25 186.91L437.59 186.68L438.94 186.42L440.29 186.13L441.63 185.81L442.98 185.47L444.33 185.09L445.68 184.69L447.02 184.26L448.37 183.81L449.72 183.33L451.06 182.82L452.41 182.29L453.76 181.73L455.11 181.15L456.45 180.55L457.80 179.92L459.15 179.27L460.49 178.59L461.84 177.90L463.19 177.17L464.54 176.42L465.88 175.65L467.23 174.85L468.58 174.02L469.92 173.17L471.27 172.29L472.62 171.38L473.97 170.45L475.31 169.49L476.66 168.49L478.01 167.48L479.35 166.43L480.70 165.36L482.05 164.27L483.40 163.15L484.74 162.01L486.09 160.84L487.44 159.66L488.78 158.45L490.13 157.23L491.48 155.99L492.83 154.73L494.17 153.45L495.52 152.16L496.87 150.86L498.22 149.54L499.56 148.22L500.91 146.88L502.26 145.54L503.60 144.19L504.95 142.83L506.30 141.48L507.65 140.12L508.99 138.77L510.34 137.42L511.69 136.07L513.03 134.73L514.38 133.39L515.73 132.06L517.08 130.73L518.42 129.42L519.77 128.11L521.12 126.82L522.46 125.54L523.81 124.27L525.16 123.01L526.51 121.77L527.85 120.54L529.20 119.33L530.55 118.13L531.89 116.96L533.24 115.80L534.59 114.66L535.94 113.55L537.28 112.45L538.63 111.38L539.98 110.32L541.32 109.28L542.67 108.26L544.02 107.26L545.37 106.27L546.71 105.30L548.06 104.35L549.41 103.40L550.75 102.48L552.10 101.56L553.45 100.66L554.80 99.77L556.14 98.89L557.49 98.02L558.84 97.16L560.18 96.31L561.53 95.47L562.88 94.64L564.23 93.82L565.57 93.00L566.92 92.19L568.27 91.39L569.62 90.60L570.96 89.81L572.31 89.04L573.66 88.27L575.00 87.51L576.35 86.75L577.70 86.00L579.05 85.27L580.39 84.54L581.74 83.81L583.09 83.10L584.43 82.40L585.78 81.71L587.13 81.03L588.48 80.37L589.82 79.71L591.17 79.07L592.52 78.43L593.86 77.81L595.21 77.18L596.56 76.57L597.91 75.96L599.25 75.35L600.60 74.74" fill="none" stroke="#f2982a" stroke-width="1.2" stroke-linejoin="round"/>
<line x1="493.50" y1="28.80" x2="493.50" y2="207.30" stroke="#262626" stroke-width="1.3" stroke-dasharray="3.3 3.0" stroke-dashoffset="4.30"/>
<path d="M386.40 28.80 L386.40 207.30 L600.60 207.30" fill="none" stroke="#7c7c7c" stroke-width="1.25" stroke-linejoin="round" stroke-linecap="round"/>
<line x1="385.40" y1="198.45" x2="386.40" y2="198.45" stroke="#707070" stroke-width="0.8"/>
<text transform="translate(384.00 200.55) scale(1 1.05)" text-anchor="end" font-size="8.85" fill="#3c3c3c">&#8722;1</text>
<line x1="385.40" y1="158.20" x2="386.40" y2="158.20" stroke="#707070" stroke-width="0.8"/>
<text transform="translate(384.00 160.30) scale(1 1.05)" text-anchor="end" font-size="8.85" fill="#3c3c3c">0</text>
<line x1="385.40" y1="117.95" x2="386.40" y2="117.95" stroke="#707070" stroke-width="0.8"/>
<text transform="translate(384.00 120.05) scale(1 1.05)" text-anchor="end" font-size="8.85" fill="#3c3c3c">1</text>
<line x1="385.40" y1="77.70" x2="386.40" y2="77.70" stroke="#707070" stroke-width="0.8"/>
<text transform="translate(384.00 79.80) scale(1 1.05)" text-anchor="end" font-size="8.85" fill="#3c3c3c">2</text>
<line x1="385.40" y1="37.45" x2="386.40" y2="37.45" stroke="#707070" stroke-width="0.8"/>
<text transform="translate(384.00 39.55) scale(1 1.05)" text-anchor="end" font-size="8.85" fill="#3c3c3c">3</text>
<line x1="428.50" y1="207.30" x2="428.50" y2="208.30" stroke="#707070" stroke-width="0.8"/>
<text transform="translate(428.50 216.20) scale(1 1.05)" text-anchor="middle" font-size="8.85" fill="#3c3c3c">&#8722;10</text>
<line x1="493.50" y1="207.30" x2="493.50" y2="208.30" stroke="#707070" stroke-width="0.8"/>
<text transform="translate(493.50 216.20) scale(1 1.05)" text-anchor="middle" font-size="8.85" fill="#3c3c3c">0</text>
<line x1="558.50" y1="207.30" x2="558.50" y2="208.30" stroke="#707070" stroke-width="0.8"/>
<text transform="translate(558.50 216.20) scale(1 1.05)" text-anchor="middle" font-size="8.85" fill="#3c3c3c">10</text>
<line x1="604.60" y1="74.20" x2="609.60" y2="74.20" stroke="#f2982a" stroke-width="1.6"/>
<text transform="translate(612.90 77.10) scale(1 1.04)" font-size="8.8" fill="#231f20" stroke="#231f20" stroke-width="0.18">%-tau217</text>
<line x1="604.60" y1="94.10" x2="609.60" y2="94.10" stroke="#f7bc55" stroke-width="1.6"/>
<text transform="translate(612.90 96.30) scale(1 1.04)" font-size="8.8" fill="#231f20" stroke="#231f20" stroke-width="0.18">p-<tspan dx="-1.5">tau</tspan>217</text>
<line x1="604.60" y1="121.60" x2="609.60" y2="121.60" stroke="#a3825f" stroke-width="1.6"/>
<text transform="translate(612.90 124.20) scale(1 1.04)" font-size="8.8" fill="#231f20" stroke="#231f20" stroke-width="0.18">np-<tspan dx="-1.5">tau</tspan></text>
<text transform="translate(612.90 134.70) scale(1 1.04)" font-size="8.8" fill="#231f20" stroke="#231f20" stroke-width="0.18">mid-region</text>
<text transform="translate(356.10 118.60) rotate(-90)" text-anchor="middle" font-size="11.1" font-weight="bold" fill="#231f20" stroke="#231f20" stroke-width="0.35">Biomarker abnormality</text>
<text transform="translate(369.70 118.40) rotate(-90)" text-anchor="middle" font-size="11.1" font-weight="bold" fill="#231f20" stroke="#231f20" stroke-width="0.35">(z&#8722;score)</text>
<text transform="translate(493.60 228.20) scale(1 0.93)" text-anchor="middle" font-size="10.38" font-weight="bold" fill="#231f20" stroke="#231f20" stroke-width="0.4">Estimated Tau-PET+ years</text>
<line x1="48.40" y1="467.37" x2="254.00" y2="467.37" stroke="#ebebeb" stroke-width="0.8"/>
<line x1="48.40" y1="413.40" x2="254.00" y2="413.40" stroke="#ebebeb" stroke-width="0.8"/>
<line x1="48.40" y1="359.43" x2="254.00" y2="359.43" stroke="#ebebeb" stroke-width="0.8"/>
<line x1="48.40" y1="305.46" x2="254.00" y2="305.46" stroke="#ebebeb" stroke-width="0.8"/>
<line x1="84.10" y1="297.30" x2="84.10" y2="475.30" stroke="#ebebeb" stroke-width="0.8"/>
<line x1="191.10" y1="297.30" x2="191.10" y2="475.30" stroke="#ebebeb" stroke-width="0.8"/>
<line x1="244.60" y1="297.30" x2="244.60" y2="475.30" stroke="#ebebeb" stroke-width="0.8"/>
<path d="M48.40 446.34L50.09 446.31L51.77 446.29L53.46 446.26L55.15 446.24L56.83 446.22L58.52 446.19L60.21 446.17L61.90 446.14L63.58 446.11L65.27 446.08L66.96 446.04L68.64 446.00L70.33 445.95L72.02 445.89L73.70 445.83L75.39 445.76L77.08 445.68L78.77 445.59L80.45 445.49L82.14 445.37L83.83 445.25L85.51 445.12L87.20 444.98L88.89 444.85L90.57 444.71L92.26 444.57L93.95 444.43L95.63 444.28L97.32 444.12L99.01 443.95L100.70 443.78L102.38 443.59L104.07 443.39L105.76 443.18L107.44 442.96L109.13 442.72L110.82 442.46L112.50 442.19L114.19 441.89L115.88 441.58L117.57 441.25L119.25 440.89L120.94 440.51L122.63 440.10L124.31 439.65L126.00 439.17L127.69 438.64L129.37 438.07L131.06 437.45L132.75 436.79L134.43 436.09L136.12 435.34L137.81 434.55L139.50 433.71L141.18 432.80L142.87 431.83L144.56 430.79L146.24 429.70L147.93 428.54L149.62 427.32L151.30 426.05L152.99 424.74L154.68 423.38L156.37 421.99L158.05 420.58L159.74 419.14L161.43 417.69L163.11 416.23L164.80 414.77L166.49 413.31L168.17 411.83L169.86 410.34L171.55 408.86L173.23 407.36L174.92 405.87L176.61 404.37L178.30 402.88L179.98 401.39L181.67 399.92L183.36 398.46L185.04 397.02L186.73 395.60L188.42 394.21L190.10 392.84L191.79 391.51L193.48 390.21L195.16 388.93L196.85 387.68L198.54 386.44L200.23 385.21L201.91 384.00L203.60 382.79L205.29 381.60L206.97 380.43L208.66 379.28L210.35 378.14L212.03 377.03L213.72 375.95L215.41 374.89L217.10 373.86L218.78 372.86L220.47 371.89L222.16 370.94L223.84 370.02L225.53 369.12L227.22 368.24L228.90 367.39L230.59 366.56L232.28 365.75L233.96 364.95L235.65 364.17L237.34 363.39L239.03 362.62L240.71 361.85L242.40 361.08L244.09 360.31L245.77 359.52L247.46 358.73L249.15 357.94L249.15 383.84L247.46 384.39L245.77 384.94L244.09 385.47L242.40 385.99L240.71 386.51L239.03 387.02L237.34 387.53L235.65 388.05L233.96 388.57L232.28 389.09L230.59 389.64L228.90 390.19L227.22 390.77L225.53 391.37L223.84 391.99L222.16 392.63L220.47 393.29L218.78 393.98L217.10 394.70L215.41 395.44L213.72 396.20L212.03 396.99L210.35 397.81L208.66 398.65L206.97 399.50L205.29 400.37L203.60 401.26L201.91 402.16L200.23 403.07L198.54 404.00L196.85 404.93L195.16 405.87L193.48 406.84L191.79 407.83L190.10 408.85L188.42 409.89L186.73 410.96L185.04 412.05L183.36 413.15L181.67 414.27L179.98 415.41L178.30 416.55L176.61 417.69L174.92 418.84L173.23 419.98L171.55 421.13L169.86 422.27L168.17 423.40L166.49 424.53L164.80 425.66L163.11 426.76L161.43 427.83L159.74 428.87L158.05 429.87L156.37 430.84L154.68 431.77L152.99 432.68L151.30 433.56L149.62 434.41L147.93 435.23L146.24 436.04L144.56 436.83L142.87 437.60L141.18 438.38L139.50 439.16L137.81 439.95L136.12 440.75L134.43 441.54L132.75 442.32L131.06 443.08L129.37 443.83L127.69 444.55L126.00 445.25L124.31 445.93L122.63 446.59L120.94 447.23L119.25 447.86L117.57 448.47L115.88 449.07L114.19 449.66L112.50 450.23L110.82 450.79L109.13 451.33L107.44 451.86L105.76 452.37L104.07 452.87L102.38 453.34L100.70 453.80L99.01 454.24L97.32 454.65L95.63 455.05L93.95 455.42L92.26 455.77L90.57 456.09L88.89 456.39L87.20 456.67L85.51 456.91L83.83 457.14L82.14 457.34L80.45 457.53L78.77 457.71L77.08 457.87L75.39 458.03L73.70 458.17L72.02 458.30L70.33 458.42L68.64 458.53L66.96 458.64L65.27 458.73L63.58 458.82L61.90 458.89L60.21 458.97L58.52 459.03L56.83 459.09L55.15 459.14L53.46 459.18L51.77 459.23L50.09 459.26L48.40 459.29Z" fill="#9d93cc" fill-opacity="0.11" stroke="none"/>
<path d="M48.40 437.70L50.09 437.69L51.77 437.68L53.46 437.67L55.15 437.66L56.83 437.65L58.52 437.64L60.21 437.62L61.90 437.61L63.58 437.59L65.27 437.57L66.96 437.55L68.64 437.53L70.33 437.50L72.02 437.47L73.70 437.44L75.39 437.40L77.08 437.36L78.77 437.31L80.45 437.26L82.14 437.20L83.83 437.14L85.51 437.08L87.20 437.01L88.89 436.93L90.57 436.86L92.26 436.78L93.95 436.70L95.63 436.61L97.32 436.53L99.01 436.43L100.70 436.34L102.38 436.24L104.07 436.14L105.76 436.04L107.44 435.93L109.13 435.82L110.82 435.71L112.50 435.59L114.19 435.47L115.88 435.34L117.57 435.20L119.25 435.05L120.94 434.89L122.63 434.71L124.31 434.52L126.00 434.30L127.69 434.07L129.37 433.82L131.06 433.53L132.75 433.23L134.43 432.89L136.12 432.53L137.81 432.13L139.50 431.70L141.18 431.23L142.87 430.74L144.56 430.21L146.24 429.67L147.93 429.09L149.62 428.50L151.30 427.88L152.99 427.24L154.68 426.59L156.37 425.92L158.05 425.24L159.74 424.54L161.43 423.82L163.11 423.07L164.80 422.30L166.49 421.50L168.17 420.67L169.86 419.80L171.55 418.90L173.23 417.96L174.92 416.97L176.61 415.94L178.30 414.88L179.98 413.78L181.67 412.66L183.36 411.52L185.04 410.37L186.73 409.22L188.42 408.07L190.10 406.93L191.79 405.81L193.48 404.72L195.16 403.63L196.85 402.56L198.54 401.50L200.23 400.44L201.91 399.38L203.60 398.31L205.29 397.24L206.97 396.16L208.66 395.06L210.35 393.97L212.03 392.88L213.72 391.80L215.41 390.75L217.10 389.73L218.78 388.74L220.47 387.78L222.16 386.84L223.84 385.93L225.53 385.05L227.22 384.18L228.90 383.34L230.59 382.51L232.28 381.70L233.96 380.90L235.65 380.11L237.34 379.33L239.03 378.54L240.71 377.75L242.40 376.95L244.09 376.14L245.77 375.31L247.46 374.48L249.15 373.63L249.15 395.22L247.46 395.64L245.77 396.06L244.09 396.47L242.40 396.87L240.71 397.27L239.03 397.66L237.34 398.05L235.65 398.44L233.96 398.85L232.28 399.27L230.59 399.71L228.90 400.16L227.22 400.65L225.53 401.16L223.84 401.70L222.16 402.27L220.47 402.87L218.78 403.51L217.10 404.19L215.41 404.90L213.72 405.65L212.03 406.43L210.35 407.24L208.66 408.07L206.97 408.90L205.29 409.73L203.60 410.56L201.91 411.39L200.23 412.23L198.54 413.08L196.85 413.95L195.16 414.83L193.48 415.74L191.79 416.67L190.10 417.64L188.42 418.62L186.73 419.62L185.04 420.62L183.36 421.62L181.67 422.60L179.98 423.58L178.30 424.53L176.61 425.45L174.92 426.34L173.23 427.19L171.55 428.00L169.86 428.77L168.17 429.51L166.49 430.22L164.80 430.90L163.11 431.56L161.43 432.19L159.74 432.81L158.05 433.42L156.37 434.01L154.68 434.59L152.99 435.16L151.30 435.73L149.62 436.28L147.93 436.82L146.24 437.34L144.56 437.85L142.87 438.34L141.18 438.81L139.50 439.26L137.81 439.68L136.12 440.09L134.43 440.46L132.75 440.82L131.06 441.16L129.37 441.47L127.69 441.77L126.00 442.05L124.31 442.32L122.63 442.58L120.94 442.82L119.25 443.05L117.57 443.28L115.88 443.49L114.19 443.70L112.50 443.91L110.82 444.11L109.13 444.32L107.44 444.52L105.76 444.71L104.07 444.91L102.38 445.10L100.70 445.29L99.01 445.47L97.32 445.65L95.63 445.83L93.95 446.00L92.26 446.16L90.57 446.31L88.89 446.46L87.20 446.61L85.51 446.74L83.83 446.87L82.14 446.98L80.45 447.10L78.77 447.20L77.08 447.31L75.39 447.40L73.70 447.49L72.02 447.58L70.33 447.67L68.64 447.74L66.96 447.82L65.27 447.89L63.58 447.96L61.90 448.03L60.21 448.09L58.52 448.15L56.83 448.21L55.15 448.27L53.46 448.33L51.77 448.38L50.09 448.44L48.40 448.49Z" fill="#9d93cc" fill-opacity="0.11" stroke="none"/>
<path d="M48.40 432.83L50.09 432.84L51.77 432.86L53.46 432.87L55.15 432.88L56.83 432.88L58.52 432.89L60.21 432.90L61.90 432.91L63.58 432.91L65.27 432.91L66.96 432.92L68.64 432.92L70.33 432.91L72.02 432.91L73.70 432.90L75.39 432.89L77.08 432.88L78.77 432.87L80.45 432.85L82.14 432.83L83.83 432.81L85.51 432.78L87.20 432.75L88.89 432.72L90.57 432.69L92.26 432.65L93.95 432.62L95.63 432.58L97.32 432.55L99.01 432.52L100.70 432.49L102.38 432.46L104.07 432.43L105.76 432.41L107.44 432.40L109.13 432.38L110.82 432.38L112.50 432.38L114.19 432.38L115.88 432.39L117.57 432.40L119.25 432.40L120.94 432.40L122.63 432.39L124.31 432.38L126.00 432.35L127.69 432.31L129.37 432.25L131.06 432.18L132.75 432.08L134.43 431.96L136.12 431.82L137.81 431.66L139.50 431.46L141.18 431.23L142.87 430.97L144.56 430.68L146.24 430.36L147.93 430.01L149.62 429.62L151.30 429.21L152.99 428.77L154.68 428.29L156.37 427.79L158.05 427.25L159.74 426.69L161.43 426.10L163.11 425.47L164.80 424.82L166.49 424.14L168.17 423.43L169.86 422.69L171.55 421.92L173.23 421.13L174.92 420.31L176.61 419.47L178.30 418.60L179.98 417.71L181.67 416.79L183.36 415.86L185.04 414.91L186.73 413.93L188.42 412.95L190.10 411.95L191.79 410.94L193.48 409.92L195.16 408.89L196.85 407.85L198.54 406.79L200.23 405.71L201.91 404.63L203.60 403.55L205.29 402.46L206.97 401.37L208.66 400.30L210.35 399.23L212.03 398.19L213.72 397.16L215.41 396.15L217.10 395.16L218.78 394.20L220.47 393.24L222.16 392.31L223.84 391.38L225.53 390.46L227.22 389.54L228.90 388.62L230.59 387.70L232.28 386.78L233.96 385.86L235.65 384.94L237.34 384.02L239.03 383.10L240.71 382.19L242.40 381.28L244.09 380.38L245.77 379.48L247.46 378.58L249.15 377.69L249.15 399.27L247.46 399.73L245.77 400.19L244.09 400.65L242.40 401.13L240.71 401.62L239.03 402.11L237.34 402.61L235.65 403.12L233.96 403.64L232.28 404.17L230.59 404.70L228.90 405.24L227.22 405.78L225.53 406.34L223.84 406.90L222.16 407.48L220.47 408.08L218.78 408.70L217.10 409.35L215.41 410.03L213.72 410.74L212.03 411.48L210.35 412.25L208.66 413.05L206.97 413.87L205.29 414.72L203.60 415.58L201.91 416.45L200.23 417.33L198.54 418.22L196.85 419.11L195.16 420.00L193.48 420.89L191.79 421.78L190.10 422.68L188.42 423.56L186.73 424.44L185.04 425.31L183.36 426.16L181.67 426.99L179.98 427.80L178.30 428.59L176.61 429.36L174.92 430.11L173.23 430.84L171.55 431.54L169.86 432.22L168.17 432.88L166.49 433.51L164.80 434.11L163.11 434.69L161.43 435.25L159.74 435.77L158.05 436.28L156.37 436.75L154.68 437.20L152.99 437.63L151.30 438.02L149.62 438.40L147.93 438.75L146.24 439.07L144.56 439.36L142.87 439.63L141.18 439.88L139.50 440.10L137.81 440.29L136.12 440.46L134.43 440.60L132.75 440.72L131.06 440.81L129.37 440.88L127.69 440.94L126.00 440.98L124.31 441.01L122.63 441.03L120.94 441.03L119.25 441.04L117.57 441.03L115.88 441.03L114.19 441.02L112.50 441.01L110.82 441.01L109.13 441.02L107.44 441.03L105.76 441.05L104.07 441.07L102.38 441.09L100.70 441.12L99.01 441.15L97.32 441.18L95.63 441.22L93.95 441.25L92.26 441.29L90.57 441.32L88.89 441.36L87.20 441.39L85.51 441.42L83.83 441.44L82.14 441.47L80.45 441.49L78.77 441.50L77.08 441.52L75.39 441.53L73.70 441.54L72.02 441.54L70.33 441.55L68.64 441.55L66.96 441.55L65.27 441.55L63.58 441.55L61.90 441.54L60.21 441.53L58.52 441.53L56.83 441.52L55.15 441.51L53.46 441.50L51.77 441.49L50.09 441.48L48.40 441.47Z" fill="#9d93cc" fill-opacity="0.11" stroke="none"/>
<path d="M48.40 435.53L50.09 435.52L51.77 435.50L53.46 435.49L55.15 435.47L56.83 435.45L58.52 435.44L60.21 435.42L61.90 435.40L63.58 435.38L65.27 435.36L66.96 435.33L68.64 435.31L70.33 435.28L72.02 435.25L73.70 435.22L75.39 435.19L77.08 435.15L78.77 435.12L80.45 435.08L82.14 435.03L83.83 434.99L85.51 434.94L87.20 434.88L88.89 434.83L90.57 434.77L92.26 434.71L93.95 434.65L95.63 434.58L97.32 434.52L99.01 434.45L100.70 434.38L102.38 434.31L104.07 434.23L105.76 434.16L107.44 434.08L109.13 434.00L110.82 433.93L112.50 433.85L114.19 433.77L115.88 433.69L117.57 433.61L119.25 433.52L120.94 433.44L122.63 433.35L124.31 433.25L126.00 433.16L127.69 433.06L129.37 432.95L131.06 432.84L132.75 432.73L134.43 432.61L136.12 432.48L137.81 432.35L139.50 432.21L141.18 432.05L142.87 431.89L144.56 431.70L146.24 431.49L147.93 431.26L149.62 431.00L151.30 430.71L152.99 430.40L154.68 430.04L156.37 429.65L158.05 429.23L159.74 428.76L161.43 428.26L163.11 427.73L164.80 427.16L166.49 426.56L168.17 425.94L169.86 425.28L171.55 424.60L173.23 423.90L174.92 423.18L176.61 422.45L178.30 421.71L179.98 420.97L181.67 420.22L183.36 419.47L185.04 418.72L186.73 417.97L188.42 417.20L190.10 416.42L191.79 415.62L193.48 414.80L195.16 413.95L196.85 413.08L198.54 412.19L200.23 411.27L201.91 410.33L203.60 409.37L205.29 408.40L206.97 407.41L208.66 406.40L210.35 405.39L212.03 404.36L213.72 403.31L215.41 402.26L217.10 401.20L218.78 400.13L220.47 399.05L222.16 397.96L223.84 396.84L225.53 395.71L227.22 394.57L228.90 393.40L230.59 392.21L232.28 391.01L233.96 389.79L235.65 388.56L237.34 387.32L239.03 386.08L240.71 384.83L242.40 383.59L244.09 382.36L245.77 381.14L247.46 379.92L249.15 378.71L249.15 400.29L247.46 400.97L245.77 401.66L244.09 402.36L242.40 403.07L240.71 403.79L239.03 404.52L237.34 405.26L235.65 406.00L233.96 406.74L232.28 407.48L230.59 408.21L228.90 408.94L227.22 409.65L225.53 410.36L223.84 411.05L222.16 411.74L220.47 412.43L218.78 413.11L217.10 413.80L215.41 414.48L213.72 415.18L212.03 415.87L210.35 416.57L208.66 417.28L206.97 417.98L205.29 418.69L203.60 419.40L201.91 420.11L200.23 420.82L198.54 421.52L196.85 422.23L195.16 422.93L193.48 423.62L191.79 424.31L190.10 424.99L188.42 425.66L186.73 426.31L185.04 426.96L183.36 427.60L181.67 428.24L179.98 428.89L178.30 429.53L176.61 430.18L174.92 430.81L173.23 431.44L171.55 432.05L169.86 432.64L168.17 433.22L166.49 433.76L164.80 434.28L163.11 434.78L161.43 435.24L159.74 435.68L158.05 436.08L156.37 436.45L154.68 436.79L152.99 437.09L151.30 437.37L149.62 437.61L147.93 437.84L146.24 438.04L144.56 438.22L142.87 438.39L141.18 438.54L139.50 438.69L137.81 438.83L136.12 438.96L134.43 439.09L132.75 439.21L131.06 439.32L129.37 439.43L127.69 439.53L126.00 439.63L124.31 439.73L122.63 439.82L120.94 439.91L119.25 440.00L117.57 440.08L115.88 440.17L114.19 440.25L112.50 440.33L110.82 440.40L109.13 440.48L107.44 440.56L105.76 440.63L104.07 440.71L102.38 440.78L100.70 440.85L99.01 440.92L97.32 440.99L95.63 441.06L93.95 441.12L92.26 441.19L90.57 441.25L88.89 441.31L87.20 441.36L85.51 441.41L83.83 441.46L82.14 441.51L80.45 441.55L78.77 441.59L77.08 441.63L75.39 441.67L73.70 441.70L72.02 441.73L70.33 441.76L68.64 441.78L66.96 441.81L65.27 441.83L63.58 441.85L61.90 441.87L60.21 441.89L58.52 441.91L56.83 441.93L55.15 441.95L53.46 441.96L51.77 441.98L50.09 441.99L48.40 442.01Z" fill="#e8707c" fill-opacity="0.2" stroke="none"/>
<path d="M48.40 436.07L50.09 436.06L51.77 436.04L53.46 436.03L55.15 436.01L56.83 435.99L58.52 435.98L60.21 435.96L61.90 435.94L63.58 435.92L65.27 435.89L66.96 435.87L68.64 435.85L70.33 435.82L72.02 435.79L73.70 435.76L75.39 435.73L77.08 435.69L78.77 435.66L80.45 435.62L82.14 435.57L83.83 435.53L85.51 435.48L87.20 435.43L88.89 435.37L90.57 435.31L92.26 435.25L93.95 435.19L95.63 435.13L97.32 435.06L99.01 434.99L100.70 434.92L102.38 434.85L104.07 434.77L105.76 434.70L107.44 434.62L109.13 434.54L110.82 434.46L112.50 434.38L114.19 434.30L115.88 434.22L117.57 434.13L119.25 434.05L120.94 433.96L122.63 433.86L124.31 433.77L126.00 433.67L127.69 433.57L129.37 433.46L131.06 433.35L132.75 433.23L134.43 433.11L136.12 432.99L137.81 432.85L139.50 432.71L141.18 432.56L142.87 432.40L144.56 432.23L146.24 432.04L147.93 431.83L149.62 431.60L151.30 431.36L152.99 431.09L154.68 430.80L156.37 430.49L158.05 430.15L159.74 429.78L161.43 429.38L163.11 428.96L164.80 428.50L166.49 428.01L168.17 427.48L169.86 426.92L171.55 426.32L173.23 425.69L174.92 425.03L176.61 424.34L178.30 423.64L179.98 422.91L181.67 422.17L183.36 421.41L185.04 420.64L186.73 419.86L188.42 419.08L190.10 418.29L191.79 417.51L193.48 416.72L195.16 415.92L196.85 415.12L198.54 414.30L200.23 413.49L201.91 412.66L203.60 411.82L205.29 410.97L206.97 410.12L208.66 409.25L210.35 408.37L212.03 407.48L213.72 406.58L215.41 405.67L217.10 404.74L218.78 403.80L220.47 402.85L222.16 401.88L223.84 400.91L225.53 399.92L227.22 398.92L228.90 397.91L230.59 396.89L232.28 395.85L233.96 394.81L235.65 393.75L237.34 392.69L239.03 391.61L240.71 390.52L242.40 389.42L244.09 388.30L245.77 387.18L247.46 386.05L249.15 384.91L249.15 404.34L247.46 405.04L245.77 405.73L244.09 406.42L242.40 407.11L240.71 407.79L239.03 408.46L237.34 409.12L235.65 409.78L233.96 410.44L232.28 411.08L230.59 411.73L228.90 412.37L227.22 413.01L225.53 413.64L223.84 414.27L222.16 414.90L220.47 415.53L218.78 416.15L217.10 416.77L215.41 417.39L213.72 418.00L212.03 418.62L210.35 419.23L208.66 419.84L206.97 420.46L205.29 421.08L203.60 421.69L201.91 422.32L200.23 422.95L198.54 423.58L196.85 424.22L195.16 424.87L193.48 425.52L191.79 426.19L190.10 426.86L188.42 427.54L186.73 428.21L185.04 428.89L183.36 429.55L181.67 430.20L179.98 430.85L178.30 431.47L176.61 432.08L174.92 432.67L173.23 433.24L171.55 433.78L169.86 434.29L168.17 434.77L166.49 435.22L164.80 435.64L163.11 436.02L161.43 436.38L159.74 436.71L158.05 437.01L156.37 437.29L154.68 437.55L152.99 437.79L151.30 438.02L149.62 438.22L147.93 438.41L146.24 438.59L144.56 438.75L142.87 438.91L141.18 439.05L139.50 439.20L137.81 439.33L136.12 439.46L134.43 439.59L132.75 439.71L131.06 439.82L129.37 439.94L127.69 440.04L126.00 440.15L124.31 440.24L122.63 440.34L120.94 440.43L119.25 440.52L117.57 440.61L115.88 440.70L114.19 440.78L112.50 440.86L110.82 440.94L109.13 441.02L107.44 441.10L105.76 441.17L104.07 441.25L102.38 441.32L100.70 441.40L99.01 441.47L97.32 441.54L95.63 441.60L93.95 441.67L92.26 441.73L90.57 441.79L88.89 441.85L87.20 441.90L85.51 441.95L83.83 442.00L82.14 442.05L80.45 442.09L78.77 442.13L77.08 442.17L75.39 442.20L73.70 442.24L72.02 442.27L70.33 442.30L68.64 442.32L66.96 442.35L65.27 442.37L63.58 442.39L61.90 442.41L60.21 442.43L58.52 442.45L56.83 442.47L55.15 442.49L53.46 442.50L51.77 442.52L50.09 442.53L48.40 442.55Z" fill="#e8707c" fill-opacity="0.2" stroke="none"/>
<path d="M48.40 452.82L49.66 452.80L50.93 452.77L52.19 452.75L53.45 452.72L54.71 452.70L55.98 452.67L57.24 452.64L58.50 452.61L59.76 452.58L61.03 452.54L62.29 452.51L63.55 452.46L64.81 452.42L66.08 452.37L67.34 452.32L68.60 452.27L69.86 452.21L71.13 452.14L72.39 452.08L73.65 452.00L74.91 451.92L76.18 451.84L77.44 451.75L78.70 451.65L79.96 451.55L81.23 451.44L82.49 451.32L83.75 451.20L85.01 451.07L86.28 450.93L87.54 450.78L88.80 450.63L90.06 450.47L91.33 450.30L92.59 450.12L93.85 449.94L95.11 449.74L96.38 449.54L97.64 449.33L98.90 449.11L100.17 448.89L101.43 448.65L102.69 448.41L103.95 448.15L105.22 447.89L106.48 447.62L107.74 447.34L109.00 447.06L110.27 446.76L111.53 446.45L112.79 446.14L114.05 445.81L115.32 445.48L116.58 445.13L117.84 444.78L119.10 444.42L120.37 444.04L121.63 443.66L122.89 443.26L124.15 442.84L125.42 442.41L126.68 441.97L127.94 441.50L129.20 441.02L130.47 440.51L131.73 439.99L132.99 439.45L134.25 438.89L135.52 438.32L136.78 437.74L138.04 437.14L139.30 436.53L140.57 435.90L141.83 435.26L143.09 434.60L144.35 433.92L145.62 433.22L146.88 432.50L148.14 431.76L149.41 430.99L150.67 430.21L151.93 429.40L153.19 428.58L154.46 427.73L155.72 426.87L156.98 425.98L158.24 425.09L159.51 424.17L160.77 423.25L162.03 422.31L163.29 421.36L164.56 420.40L165.82 419.43L167.08 418.46L168.34 417.48L169.61 416.50L170.87 415.52L172.13 414.53L173.39 413.55L174.66 412.56L175.92 411.57L177.18 410.58L178.44 409.60L179.71 408.61L180.97 407.64L182.23 406.66L183.49 405.70L184.76 404.75L186.02 403.80L187.28 402.87L188.54 401.96L189.81 401.05L191.07 400.17L192.33 399.30L193.59 398.45L194.86 397.61L196.12 396.78L197.38 395.96L198.64 395.15L199.91 394.35L201.17 393.55L202.43 392.75L203.70 391.97L204.96 391.19L206.22 390.42L207.48 389.66L208.75 388.91L210.01 388.17L211.27 387.45L212.53 386.73L213.80 386.03L215.06 385.35L216.32 384.68L217.58 384.03L218.85 383.39L220.11 382.76L221.37 382.15L222.63 381.56L223.90 380.98L225.16 380.41L226.42 379.85L227.68 379.31L228.95 378.77L230.21 378.25L231.47 377.74L232.73 377.24L234.00 376.75L235.26 376.26L236.52 375.77L237.78 375.29L239.05 374.81L240.31 374.33L241.57 373.85L242.83 373.37L244.10 372.88L245.36 372.39L246.62 371.89L247.88 371.39L249.15 370.89" fill="none" stroke="#ae8bcb" stroke-width="1.3" stroke-dasharray="5 4.2" stroke-linejoin="round"/>
<path d="M48.40 443.09L49.66 443.07L50.93 443.05L52.19 443.02L53.45 443.00L54.71 442.97L55.98 442.95L57.24 442.92L58.50 442.89L59.76 442.87L61.03 442.84L62.29 442.81L63.55 442.78L64.81 442.74L66.08 442.71L67.34 442.67L68.60 442.64L69.86 442.60L71.13 442.56L72.39 442.51L73.65 442.47L74.91 442.42L76.18 442.37L77.44 442.32L78.70 442.26L79.96 442.20L81.23 442.14L82.49 442.07L83.75 442.01L85.01 441.94L86.28 441.86L87.54 441.78L88.80 441.70L90.06 441.62L91.33 441.53L92.59 441.45L93.85 441.35L95.11 441.26L96.38 441.16L97.64 441.06L98.90 440.96L100.17 440.86L101.43 440.75L102.69 440.65L103.95 440.54L105.22 440.42L106.48 440.31L107.74 440.20L109.00 440.08L110.27 439.96L111.53 439.84L112.79 439.72L114.05 439.60L115.32 439.47L116.58 439.34L117.84 439.21L119.10 439.07L120.37 438.92L121.63 438.77L122.89 438.61L124.15 438.44L125.42 438.26L126.68 438.08L127.94 437.88L129.20 437.67L130.47 437.45L131.73 437.22L132.99 436.98L134.25 436.72L135.52 436.44L136.78 436.15L138.04 435.85L139.30 435.53L140.57 435.19L141.83 434.84L143.09 434.47L144.35 434.09L145.62 433.70L146.88 433.30L148.14 432.88L149.41 432.46L150.67 432.02L151.93 431.58L153.19 431.13L154.46 430.67L155.72 430.21L156.98 429.73L158.24 429.25L159.51 428.77L160.77 428.27L162.03 427.76L163.29 427.24L164.56 426.70L165.82 426.16L167.08 425.59L168.34 425.01L169.61 424.41L170.87 423.79L172.13 423.15L173.39 422.49L174.66 421.80L175.92 421.09L177.18 420.36L178.44 419.61L179.71 418.85L180.97 418.07L182.23 417.28L183.49 416.48L184.76 415.68L186.02 414.87L187.28 414.07L188.54 413.26L189.81 412.47L191.07 411.68L192.33 410.91L193.59 410.16L194.86 409.41L196.12 408.68L197.38 407.95L198.64 407.23L199.91 406.51L201.17 405.80L202.43 405.09L203.70 404.38L204.96 403.67L206.22 402.96L207.48 402.24L208.75 401.52L210.01 400.80L211.27 400.08L212.53 399.38L213.80 398.68L215.06 398.01L216.32 397.35L217.58 396.71L218.85 396.10L220.11 395.49L221.37 394.91L222.63 394.34L223.90 393.79L225.16 393.26L226.42 392.74L227.68 392.23L228.95 391.73L230.21 391.25L231.47 390.78L232.73 390.32L234.00 389.87L235.26 389.42L236.52 388.97L237.78 388.53L239.05 388.09L240.31 387.65L241.57 387.20L242.83 386.76L244.10 386.30L245.36 385.84L246.62 385.37L247.88 384.90L249.15 384.43" fill="none" stroke="#8f62b5" stroke-width="1.45" stroke-dasharray="5 4.2" stroke-linejoin="round"/>
<path d="M48.40 437.15L49.66 437.16L50.93 437.17L52.19 437.18L53.45 437.18L54.71 437.19L55.98 437.20L57.24 437.20L58.50 437.21L59.76 437.22L61.03 437.22L62.29 437.22L63.55 437.23L64.81 437.23L66.08 437.23L67.34 437.23L68.60 437.23L69.86 437.23L71.13 437.23L72.39 437.23L73.65 437.22L74.91 437.21L76.18 437.21L77.44 437.20L78.70 437.19L79.96 437.17L81.23 437.16L82.49 437.14L83.75 437.13L85.01 437.11L86.28 437.09L87.54 437.06L88.80 437.04L90.06 437.02L91.33 436.99L92.59 436.96L93.85 436.94L95.11 436.91L96.38 436.89L97.64 436.86L98.90 436.84L100.17 436.81L101.43 436.79L102.69 436.77L103.95 436.75L105.22 436.74L106.48 436.72L107.74 436.71L109.00 436.70L110.27 436.70L111.53 436.70L112.79 436.70L114.05 436.70L115.32 436.71L116.58 436.71L117.84 436.71L119.10 436.72L120.37 436.72L121.63 436.71L122.89 436.71L124.15 436.69L125.42 436.68L126.68 436.65L127.94 436.62L129.20 436.57L130.47 436.52L131.73 436.46L132.99 436.38L134.25 436.30L135.52 436.19L136.78 436.08L138.04 435.95L139.30 435.80L140.57 435.64L141.83 435.46L143.09 435.27L144.35 435.06L145.62 434.83L146.88 434.59L148.14 434.33L149.41 434.06L150.67 433.77L151.93 433.46L153.19 433.14L154.46 432.81L155.72 432.46L156.98 432.09L158.24 431.71L159.51 431.31L160.77 430.89L162.03 430.46L163.29 430.02L164.56 429.56L165.82 429.08L167.08 428.59L168.34 428.08L169.61 427.56L170.87 427.03L172.13 426.48L173.39 425.91L174.66 425.33L175.92 424.74L177.18 424.14L178.44 423.52L179.71 422.89L180.97 422.25L182.23 421.60L183.49 420.94L184.76 420.26L186.02 419.58L187.28 418.88L188.54 418.18L189.81 417.48L191.07 416.77L192.33 416.05L193.59 415.34L194.86 414.62L196.12 413.90L197.38 413.17L198.64 412.44L199.91 411.71L201.17 410.98L202.43 410.24L203.70 409.51L204.96 408.78L206.22 408.05L207.48 407.33L208.75 406.63L210.01 405.93L211.27 405.24L212.53 404.57L213.80 403.91L215.06 403.26L216.32 402.64L217.58 402.02L218.85 401.42L220.11 400.83L221.37 400.25L222.63 399.68L223.90 399.12L225.16 398.56L226.42 398.01L227.68 397.46L228.95 396.91L230.21 396.37L231.47 395.82L232.73 395.28L234.00 394.74L235.26 394.20L236.52 393.66L237.78 393.13L239.05 392.60L240.31 392.07L241.57 391.55L242.83 391.03L244.10 390.51L245.36 390.00L246.62 389.49L247.88 388.99L249.15 388.48" fill="none" stroke="#6347a1" stroke-width="1.5" stroke-dasharray="5 4.2" stroke-linejoin="round"/>
<path d="M48.40 439.31L49.66 439.30L50.93 439.29L52.19 439.28L53.45 439.26L54.71 439.25L55.98 439.24L57.24 439.23L58.50 439.21L59.76 439.20L61.03 439.19L62.29 439.17L63.55 439.16L64.81 439.14L66.08 439.12L67.34 439.10L68.60 439.09L69.86 439.07L71.13 439.04L72.39 439.02L73.65 439.00L74.91 438.98L76.18 438.95L77.44 438.92L78.70 438.90L79.96 438.87L81.23 438.83L82.49 438.80L83.75 438.77L85.01 438.73L86.28 438.69L87.54 438.65L88.80 438.61L90.06 438.57L91.33 438.53L92.59 438.48L93.85 438.43L95.11 438.39L96.38 438.34L97.64 438.29L98.90 438.23L100.17 438.18L101.43 438.13L102.69 438.07L103.95 438.02L105.22 437.96L106.48 437.90L107.74 437.85L109.00 437.79L110.27 437.73L111.53 437.67L112.79 437.61L114.05 437.55L115.32 437.48L116.58 437.42L117.84 437.36L119.10 437.29L120.37 437.23L121.63 437.16L122.89 437.09L124.15 437.02L125.42 436.94L126.68 436.87L127.94 436.79L129.20 436.71L130.47 436.63L131.73 436.54L132.99 436.45L134.25 436.36L135.52 436.27L136.78 436.17L138.04 436.07L139.30 435.97L140.57 435.86L141.83 435.75L143.09 435.63L144.35 435.51L145.62 435.38L146.88 435.24L148.14 435.09L149.41 434.94L150.67 434.77L151.93 434.60L153.19 434.41L154.46 434.21L155.72 434.00L156.98 433.78L158.24 433.54L159.51 433.29L160.77 433.03L162.03 432.74L163.29 432.45L164.56 432.13L165.82 431.80L167.08 431.45L168.34 431.07L169.61 430.68L170.87 430.28L172.13 429.85L173.39 429.41L174.66 428.95L175.92 428.48L177.18 427.99L178.44 427.50L179.71 426.99L180.97 426.48L182.23 425.95L183.49 425.42L184.76 424.89L186.02 424.34L187.28 423.80L188.54 423.25L189.81 422.71L191.07 422.16L192.33 421.61L193.59 421.07L194.86 420.53L196.12 419.98L197.38 419.44L198.64 418.90L199.91 418.35L201.17 417.81L202.43 417.26L203.70 416.72L204.96 416.17L206.22 415.62L207.48 415.07L208.75 414.51L210.01 413.95L211.27 413.39L212.53 412.83L213.80 412.26L215.06 411.69L216.32 411.11L217.58 410.53L218.85 409.95L220.11 409.36L221.37 408.76L222.63 408.17L223.90 407.57L225.16 406.96L226.42 406.35L227.68 405.74L228.95 405.12L230.21 404.50L231.47 403.87L232.73 403.24L234.00 402.61L235.26 401.97L236.52 401.32L237.78 400.67L239.05 400.02L240.31 399.36L241.57 398.70L242.83 398.03L244.10 397.36L245.36 396.68L246.62 396.00L247.88 395.31L249.15 394.62" fill="none" stroke="#e8606e" stroke-width="1.1" stroke-linejoin="round"/>
<path d="M48.40 438.77L49.66 438.76L50.93 438.75L52.19 438.74L53.45 438.72L54.71 438.71L55.98 438.70L57.24 438.69L58.50 438.67L59.76 438.66L61.03 438.65L62.29 438.63L63.55 438.62L64.81 438.60L66.08 438.58L67.34 438.57L68.60 438.55L69.86 438.53L71.13 438.51L72.39 438.48L73.65 438.46L74.91 438.44L76.18 438.41L77.44 438.38L78.70 438.36L79.96 438.33L81.23 438.29L82.49 438.26L83.75 438.23L85.01 438.19L86.28 438.15L87.54 438.11L88.80 438.07L90.06 438.03L91.33 437.98L92.59 437.94L93.85 437.89L95.11 437.84L96.38 437.79L97.64 437.74L98.90 437.69L100.17 437.64L101.43 437.58L102.69 437.53L103.95 437.48L105.22 437.42L106.48 437.36L107.74 437.31L109.00 437.25L110.27 437.19L111.53 437.13L112.79 437.07L114.05 437.01L115.32 436.96L116.58 436.89L117.84 436.83L119.10 436.77L120.37 436.70L121.63 436.64L122.89 436.57L124.15 436.50L125.42 436.43L126.68 436.36L127.94 436.28L129.20 436.20L130.47 436.12L131.73 436.04L132.99 435.95L134.25 435.86L135.52 435.77L136.78 435.67L138.04 435.57L139.30 435.47L140.57 435.36L141.83 435.24L143.09 435.11L144.35 434.98L145.62 434.84L146.88 434.69L148.14 434.52L149.41 434.34L150.67 434.14L151.93 433.93L153.19 433.71L154.46 433.46L155.72 433.20L156.98 432.91L158.24 432.61L159.51 432.28L160.77 431.94L162.03 431.58L163.29 431.20L164.56 430.80L165.82 430.39L167.08 429.96L168.34 429.52L169.61 429.06L170.87 428.59L172.13 428.10L173.39 427.61L174.66 427.11L175.92 426.60L177.18 426.08L178.44 425.56L179.71 425.04L180.97 424.52L182.23 424.00L183.49 423.48L184.76 422.96L186.02 422.43L187.28 421.91L188.54 421.37L189.81 420.83L191.07 420.28L192.33 419.73L193.59 419.16L194.86 418.58L196.12 418.00L197.38 417.40L198.64 416.80L199.91 416.20L201.17 415.58L202.43 414.97L203.70 414.34L204.96 413.71L206.22 413.08L207.48 412.44L208.75 411.80L210.01 411.15L211.27 410.51L212.53 409.86L213.80 409.21L215.06 408.56L216.32 407.90L217.58 407.25L218.85 406.59L220.11 405.93L221.37 405.26L222.63 404.59L223.90 403.92L225.16 403.24L226.42 402.55L227.68 401.85L228.95 401.15L230.21 400.43L231.47 399.71L232.73 398.98L234.00 398.25L235.26 397.51L236.52 396.77L237.78 396.03L239.05 395.29L240.31 394.55L241.57 393.81L242.83 393.08L244.10 392.35L245.36 391.63L246.62 390.92L247.88 390.21L249.15 389.50" fill="none" stroke="#cf1f36" stroke-width="1.55" stroke-linejoin="round"/>
<line x1="137.60" y1="297.30" x2="137.60" y2="475.30" stroke="#262626" stroke-width="1.3" stroke-dasharray="3.3 2.9" stroke-dashoffset="2.50"/>
<path d="M48.40 297.30 L48.40 475.30 L254.00 475.30" fill="none" stroke="#8c8c8c" stroke-width="1.4" stroke-linejoin="round" stroke-linecap="round"/>
<line x1="47.40" y1="467.37" x2="48.40" y2="467.37" stroke="#707070" stroke-width="0.8"/>
<text transform="translate(46.00 469.47) scale(1 1.05)" text-anchor="end" font-size="8.85" fill="#3c3c3c">&#8722;1</text>
<line x1="47.40" y1="413.40" x2="48.40" y2="413.40" stroke="#707070" stroke-width="0.8"/>
<text transform="translate(46.00 415.50) scale(1 1.05)" text-anchor="end" font-size="8.85" fill="#3c3c3c">0</text>
<line x1="47.40" y1="359.43" x2="48.40" y2="359.43" stroke="#707070" stroke-width="0.8"/>
<text transform="translate(46.00 361.53) scale(1 1.05)" text-anchor="end" font-size="8.85" fill="#3c3c3c">1</text>
<line x1="47.40" y1="305.46" x2="48.40" y2="305.46" stroke="#707070" stroke-width="0.8"/>
<text transform="translate(46.00 307.56) scale(1 1.05)" text-anchor="end" font-size="8.85" fill="#3c3c3c">2</text>
<line x1="84.10" y1="475.30" x2="84.10" y2="476.30" stroke="#707070" stroke-width="0.8"/>
<text transform="translate(84.10 484.20) scale(1 1.05)" text-anchor="middle" font-size="8.85" fill="#3c3c3c">&#8722;10</text>
<line x1="137.60" y1="475.30" x2="137.60" y2="476.30" stroke="#707070" stroke-width="0.8"/>
<text transform="translate(137.60 484.20) scale(1 1.05)" text-anchor="middle" font-size="8.85" fill="#3c3c3c">0</text>
<line x1="191.10" y1="475.30" x2="191.10" y2="476.30" stroke="#707070" stroke-width="0.8"/>
<text transform="translate(191.10 484.20) scale(1 1.05)" text-anchor="middle" font-size="8.85" fill="#3c3c3c">10</text>
<line x1="244.60" y1="475.30" x2="244.60" y2="476.30" stroke="#707070" stroke-width="0.8"/>
<text transform="translate(244.60 484.20) scale(1 1.05)" text-anchor="middle" font-size="8.85" fill="#3c3c3c">20</text>
<line x1="254.00" y1="351.80" x2="259.00" y2="351.80" stroke="#ae8bcb" stroke-width="1.5" stroke-dasharray="1.7 1.2"/>
<text transform="translate(261.80 354.00) scale(1 1.04)" font-size="8.95" fill="#231f20" stroke="#231f20" stroke-width="0.18">Tau-PET early ROI</text>
<line x1="254.00" y1="363.40" x2="259.00" y2="363.40" stroke="#8f62b5" stroke-width="1.5" stroke-dasharray="1.7 1.2"/>
<text transform="translate(261.80 365.40) scale(1 1.04)" font-size="8.95" fill="#231f20" stroke="#231f20" stroke-width="0.18">Tau-PET</text>
<text transform="translate(261.80 376.00) scale(1 1.04)" font-size="8.95" fill="#231f20" stroke="#231f20" stroke-width="0.18">intermediate ROI</text>
<line x1="254.00" y1="386.00" x2="259.00" y2="386.00" stroke="#6347a1" stroke-width="1.5" stroke-dasharray="1.7 1.2"/>
<text transform="translate(261.80 388.20) scale(1 1.04)" font-size="8.95" fill="#231f20" stroke="#231f20" stroke-width="0.18">Tau-PET late ROI</text>
<line x1="254.00" y1="398.00" x2="259.00" y2="398.00" stroke="#cf1f36" stroke-width="1.6"/>
<text transform="translate(261.80 400.20) scale(1 1.04)" font-size="8.95" fill="#231f20" stroke="#231f20" stroke-width="0.18">eMTBR-tau243</text>
<line x1="254.00" y1="409.50" x2="259.00" y2="409.50" stroke="#e8606e" stroke-width="1.6"/>
<text transform="translate(261.80 412.00) scale(1 1.04)" font-size="8.95" fill="#231f20" stroke="#231f20" stroke-width="0.18">eMTBR-tau243/</text>
<text transform="translate(261.80 422.20) scale(1 1.04)" font-size="8.95" fill="#231f20" stroke="#231f20" stroke-width="0.18">np-tau mid-region</text>
<text transform="translate(15.50 387.30) rotate(-90)" text-anchor="middle" font-size="11.1" font-weight="bold" fill="#231f20" stroke="#231f20" stroke-width="0.35">Biomarker abnormality</text>
<text transform="translate(29.20 386.60) rotate(-90)" text-anchor="middle" font-size="11.1" font-weight="bold" fill="#231f20" stroke="#231f20" stroke-width="0.35">(z&#8722;score)</text>
<text transform="translate(150.80 505.60) scale(1 0.93)" text-anchor="middle" font-size="10.38" font-weight="bold" fill="#231f20" stroke="#231f20" stroke-width="0.4">Estimated A&#946;-PET+ years</text>
<line x1="386.60" y1="446.10" x2="595.00" y2="446.10" stroke="#ebebeb" stroke-width="0.8"/>
<line x1="386.60" y1="392.20" x2="595.00" y2="392.20" stroke="#ebebeb" stroke-width="0.8"/>
<line x1="386.60" y1="338.30" x2="595.00" y2="338.30" stroke="#ebebeb" stroke-width="0.8"/>
<line x1="427.60" y1="303.20" x2="427.60" y2="480.70" stroke="#ebebeb" stroke-width="0.8"/>
<line x1="553.60" y1="303.20" x2="553.60" y2="480.70" stroke="#ebebeb" stroke-width="0.8"/>
<path d="M386.60 464.20L388.35 464.24L390.10 464.27L391.85 464.30L393.61 464.33L395.36 464.35L397.11 464.37L398.86 464.38L400.61 464.38L402.36 464.38L404.11 464.36L405.86 464.34L407.62 464.30L409.37 464.25L411.12 464.19L412.87 464.11L414.62 464.02L416.37 463.92L418.12 463.80L419.87 463.66L421.63 463.51L423.38 463.33L425.13 463.14L426.88 462.93L428.63 462.69L430.38 462.44L432.13 462.16L433.88 461.86L435.64 461.53L437.39 461.18L439.14 460.80L440.89 460.40L442.64 459.97L444.39 459.52L446.14 459.03L447.89 458.52L449.65 457.97L451.40 457.40L453.15 456.80L454.90 456.16L456.65 455.49L458.40 454.79L460.15 454.05L461.90 453.28L463.66 452.48L465.41 451.64L467.16 450.76L468.91 449.84L470.66 448.90L472.41 447.92L474.16 446.92L475.91 445.89L477.67 444.85L479.42 443.79L481.17 442.72L482.92 441.64L484.67 440.56L486.42 439.48L488.17 438.39L489.92 437.32L491.68 436.25L493.43 435.19L495.18 434.13L496.93 433.07L498.68 432.02L500.43 430.97L502.18 429.91L503.93 428.85L505.69 427.78L507.44 426.71L509.19 425.63L510.94 424.54L512.69 423.43L514.44 422.32L516.19 421.19L517.94 420.04L519.70 418.88L521.45 417.70L523.20 416.49L524.95 415.27L526.70 414.02L528.45 412.75L530.20 411.46L531.95 410.15L533.71 408.83L535.46 407.50L537.21 406.15L538.96 404.79L540.71 403.42L542.46 402.04L544.21 400.67L545.96 399.30L547.72 397.94L549.47 396.59L551.22 395.27L552.97 393.98L554.72 392.70L556.47 391.44L558.22 390.20L559.97 388.97L561.73 387.76L563.48 386.56L565.23 385.39L566.98 384.24L568.73 383.11L570.48 382.00L572.23 380.90L573.98 379.82L575.74 378.75L577.49 377.70L579.24 376.65L580.99 375.62L582.74 374.58L584.49 373.56L586.24 372.53L587.99 371.50L589.75 370.48L591.50 369.45L593.25 368.42L595.00 367.39L595.00 383.56L593.25 384.16L591.50 384.75L589.75 385.35L587.99 385.95L586.24 386.55L584.49 387.16L582.74 387.78L580.99 388.41L579.24 389.05L577.49 389.71L575.74 390.39L573.98 391.09L572.23 391.81L570.48 392.57L568.73 393.35L566.98 394.17L565.23 395.02L563.48 395.91L561.73 396.83L559.97 397.80L558.22 398.79L556.47 399.83L554.72 400.90L552.97 402.00L551.22 403.13L549.47 404.29L547.72 405.47L545.96 406.67L544.21 407.88L542.46 409.10L540.71 410.32L538.96 411.53L537.21 412.74L535.46 413.95L533.71 415.14L531.95 416.32L530.20 417.49L528.45 418.65L526.70 419.79L524.95 420.91L523.20 422.02L521.45 423.10L519.70 424.17L517.94 425.23L516.19 426.28L514.44 427.31L512.69 428.33L510.94 429.35L509.19 430.36L507.44 431.37L505.69 432.38L503.93 433.38L502.18 434.39L500.43 435.40L498.68 436.42L496.93 437.44L495.18 438.47L493.43 439.51L491.68 440.56L489.92 441.63L488.17 442.71L486.42 443.79L484.67 444.87L482.92 445.96L481.17 447.04L479.42 448.11L477.67 449.17L475.91 450.21L474.16 451.24L472.41 452.24L470.66 453.22L468.91 454.17L467.16 455.09L465.41 455.98L463.66 456.83L461.90 457.64L460.15 458.42L458.40 459.17L456.65 459.88L454.90 460.56L453.15 461.21L451.40 461.83L449.65 462.42L447.89 462.98L446.14 463.51L444.39 464.02L442.64 464.50L440.89 464.95L439.14 465.38L437.39 465.78L435.64 466.16L433.88 466.52L432.13 466.85L430.38 467.17L428.63 467.46L426.88 467.73L425.13 467.99L423.38 468.23L421.63 468.45L419.87 468.65L418.12 468.84L416.37 469.02L414.62 469.18L412.87 469.33L411.12 469.46L409.37 469.59L407.62 469.71L405.86 469.81L404.11 469.91L402.36 470.01L400.61 470.09L398.86 470.17L397.11 470.25L395.36 470.32L393.61 470.39L391.85 470.46L390.10 470.53L388.35 470.60L386.60 470.66Z" fill="#9d93cc" fill-opacity="0.1" stroke="none"/>
<path d="M386.60 459.60L388.35 459.65L390.10 459.70L391.85 459.74L393.61 459.78L395.36 459.82L397.11 459.85L398.86 459.88L400.61 459.90L402.36 459.92L404.11 459.93L405.86 459.93L407.62 459.92L409.37 459.91L411.12 459.88L412.87 459.85L414.62 459.80L416.37 459.75L418.12 459.68L419.87 459.60L421.63 459.51L423.38 459.40L425.13 459.28L426.88 459.15L428.63 459.00L430.38 458.83L432.13 458.65L433.88 458.46L435.64 458.25L437.39 458.02L439.14 457.78L440.89 457.53L442.64 457.26L444.39 456.98L446.14 456.69L447.89 456.38L449.65 456.06L451.40 455.73L453.15 455.38L454.90 455.02L456.65 454.65L458.40 454.26L460.15 453.87L461.90 453.46L463.66 453.04L465.41 452.61L467.16 452.17L468.91 451.72L470.66 451.25L472.41 450.78L474.16 450.29L475.91 449.80L477.67 449.29L479.42 448.77L481.17 448.24L482.92 447.70L484.67 447.15L486.42 446.59L488.17 446.02L489.92 445.44L491.68 444.85L493.43 444.24L495.18 443.61L496.93 442.96L498.68 442.29L500.43 441.58L502.18 440.83L503.93 440.05L505.69 439.22L507.44 438.34L509.19 437.41L510.94 436.43L512.69 435.38L514.44 434.28L516.19 433.11L517.94 431.87L519.70 430.56L521.45 429.17L523.20 427.70L524.95 426.15L526.70 424.51L528.45 422.79L530.20 420.98L531.95 419.07L533.71 417.07L535.46 414.98L537.21 412.79L538.96 410.50L540.71 408.11L542.46 405.62L544.21 403.03L545.96 400.34L547.72 397.57L549.47 394.71L551.22 391.77L552.97 388.75L554.72 385.67L556.47 382.50L558.22 379.25L559.97 375.94L561.73 372.56L563.48 369.11L565.23 365.61L566.98 362.07L568.73 358.47L570.48 354.84L572.23 351.18L573.98 347.50L575.74 343.79L577.49 340.08L579.24 336.35L580.99 332.63L582.74 328.90L584.49 325.16L586.24 321.42L587.99 317.69L589.75 313.94L591.50 310.20L593.25 306.46L595.00 302.72L595.00 317.81L593.25 321.07L591.50 324.34L589.75 327.60L587.99 330.87L586.24 334.14L584.49 337.41L582.74 340.69L580.99 343.98L579.24 347.27L577.49 350.57L575.74 353.87L573.98 357.18L572.23 360.48L570.48 363.77L568.73 367.05L566.98 370.31L565.23 373.54L563.48 376.75L561.73 379.93L559.97 383.07L558.22 386.17L556.47 389.22L554.72 392.22L552.97 395.18L551.22 398.06L549.47 400.88L547.72 403.61L545.96 406.26L544.21 408.83L542.46 411.30L540.71 413.68L538.96 415.96L537.21 418.14L535.46 420.22L533.71 422.21L531.95 424.11L530.20 425.92L528.45 427.64L526.70 429.27L524.95 430.82L523.20 432.29L521.45 433.67L519.70 434.98L517.94 436.22L516.19 437.40L514.44 438.50L512.69 439.54L510.94 440.53L509.19 441.46L507.44 442.34L505.69 443.18L503.93 443.96L502.18 444.71L500.43 445.43L498.68 446.11L496.93 446.77L495.18 447.41L493.43 448.02L491.68 448.62L489.92 449.21L488.17 449.80L486.42 450.37L484.67 450.93L482.92 451.48L481.17 452.02L479.42 452.55L477.67 453.06L475.91 453.57L474.16 454.07L472.41 454.56L470.66 455.04L468.91 455.50L467.16 455.96L465.41 456.41L463.66 456.84L461.90 457.27L460.15 457.68L458.40 458.09L456.65 458.48L454.90 458.86L453.15 459.23L451.40 459.59L449.65 459.93L447.89 460.27L446.14 460.59L444.39 460.90L442.64 461.20L440.89 461.48L439.14 461.75L437.39 462.01L435.64 462.26L433.88 462.49L432.13 462.71L430.38 462.92L428.63 463.11L426.88 463.29L425.13 463.46L423.38 463.61L421.63 463.75L419.87 463.88L418.12 464.00L416.37 464.11L414.62 464.21L412.87 464.30L411.12 464.38L409.37 464.45L407.62 464.52L405.86 464.58L404.11 464.63L402.36 464.68L400.61 464.72L398.86 464.76L397.11 464.80L395.36 464.84L393.61 464.87L391.85 464.90L390.10 464.93L388.35 464.96L386.60 464.99Z" fill="#9d93cc" fill-opacity="0.1" stroke="none"/>
<path d="M386.60 457.71L388.35 457.72L390.10 457.73L391.85 457.73L393.61 457.73L395.36 457.73L397.11 457.73L398.86 457.72L400.61 457.71L402.36 457.69L404.11 457.67L405.86 457.64L407.62 457.61L409.37 457.57L411.12 457.52L412.87 457.47L414.62 457.41L416.37 457.33L418.12 457.26L419.87 457.17L421.63 457.07L423.38 456.96L425.13 456.84L426.88 456.72L428.63 456.58L430.38 456.42L432.13 456.26L433.88 456.09L435.64 455.91L437.39 455.72L439.14 455.52L440.89 455.31L442.64 455.10L444.39 454.87L446.14 454.64L447.89 454.41L449.65 454.16L451.40 453.91L453.15 453.66L454.90 453.40L456.65 453.14L458.40 452.87L460.15 452.61L461.90 452.33L463.66 452.06L465.41 451.78L467.16 451.50L468.91 451.23L470.66 450.94L472.41 450.65L474.16 450.36L475.91 450.06L477.67 449.74L479.42 449.42L481.17 449.08L482.92 448.72L484.67 448.35L486.42 447.95L488.17 447.54L489.92 447.10L491.68 446.64L493.43 446.15L495.18 445.63L496.93 445.07L498.68 444.48L500.43 443.85L502.18 443.18L503.93 442.47L505.69 441.71L507.44 440.91L509.19 440.06L510.94 439.15L512.69 438.19L514.44 437.16L516.19 436.07L517.94 434.90L519.70 433.66L521.45 432.34L523.20 430.93L524.95 429.44L526.70 427.85L528.45 426.17L530.20 424.41L531.95 422.56L533.71 420.63L535.46 418.62L537.21 416.54L538.96 414.38L540.71 412.14L542.46 409.84L544.21 407.47L545.96 405.05L547.72 402.58L549.47 400.08L551.22 397.55L552.97 395.00L554.72 392.44L556.47 389.85L558.22 387.22L559.97 384.53L561.73 381.77L563.48 378.93L565.23 376.01L566.98 373.00L568.73 369.90L570.48 366.70L572.23 363.42L573.98 360.03L575.74 356.54L577.49 352.97L579.24 349.33L580.99 345.62L582.74 341.87L584.49 338.09L586.24 334.29L587.99 330.49L589.75 326.67L591.50 322.84L593.25 319.02L595.00 315.19L595.00 330.28L593.25 333.63L591.50 336.98L589.75 340.32L587.99 343.67L586.24 347.01L584.49 350.35L582.74 353.67L580.99 356.97L579.24 360.24L577.49 363.46L575.74 366.62L573.98 369.70L572.23 372.71L570.48 375.63L568.73 378.47L566.98 381.24L565.23 383.94L563.48 386.57L561.73 389.14L559.97 391.66L558.22 394.13L556.47 396.57L554.72 399.00L552.97 401.42L551.22 403.84L549.47 406.25L547.72 408.62L545.96 410.97L544.21 413.27L542.46 415.52L540.71 417.71L538.96 419.83L537.21 421.89L535.46 423.87L533.71 425.77L531.95 427.60L530.20 429.35L528.45 431.02L526.70 432.61L524.95 434.11L523.20 435.52L521.45 436.85L519.70 438.09L517.94 439.26L516.19 440.36L514.44 441.39L512.69 442.35L510.94 443.26L509.19 444.11L507.44 444.91L505.69 445.67L503.93 446.39L502.18 447.07L500.43 447.70L498.68 448.31L496.93 448.88L495.18 449.42L493.43 449.93L491.68 450.42L489.92 450.88L488.17 451.31L486.42 451.73L484.67 452.12L482.92 452.49L481.17 452.85L479.42 453.19L477.67 453.52L475.91 453.83L474.16 454.14L472.41 454.44L470.66 454.73L468.91 455.01L467.16 455.30L465.41 455.58L463.66 455.86L461.90 456.14L460.15 456.42L458.40 456.70L456.65 456.97L454.90 457.24L453.15 457.51L451.40 457.77L449.65 458.03L447.89 458.29L446.14 458.54L444.39 458.79L442.64 459.03L440.89 459.26L439.14 459.49L437.39 459.71L435.64 459.92L433.88 460.13L432.13 460.32L430.38 460.51L428.63 460.69L426.88 460.86L425.13 461.02L423.38 461.17L421.63 461.31L419.87 461.45L418.12 461.58L416.37 461.70L414.62 461.81L412.87 461.92L411.12 462.02L409.37 462.11L407.62 462.20L405.86 462.29L404.11 462.37L402.36 462.45L400.61 462.53L398.86 462.61L397.11 462.68L395.36 462.75L393.61 462.82L391.85 462.89L390.10 462.96L388.35 463.03L386.60 463.10Z" fill="#9d93cc" fill-opacity="0.1" stroke="none"/>
<path d="M386.60 456.07L388.35 456.12L390.10 456.17L391.85 456.21L393.61 456.26L395.36 456.31L397.11 456.35L398.86 456.40L400.61 456.44L402.36 456.49L404.11 456.53L405.86 456.57L407.62 456.61L409.37 456.65L411.12 456.70L412.87 456.74L414.62 456.78L416.37 456.82L418.12 456.86L419.87 456.90L421.63 456.94L423.38 456.98L425.13 457.02L426.88 457.07L428.63 457.11L430.38 457.15L432.13 457.19L433.88 457.22L435.64 457.26L437.39 457.28L439.14 457.31L440.89 457.32L442.64 457.33L444.39 457.33L446.14 457.32L447.89 457.29L449.65 457.26L451.40 457.21L453.15 457.15L454.90 457.07L456.65 456.97L458.40 456.86L460.15 456.72L461.90 456.57L463.66 456.40L465.41 456.20L467.16 455.99L468.91 455.74L470.66 455.48L472.41 455.18L474.16 454.86L475.91 454.52L477.67 454.14L479.42 453.74L481.17 453.30L482.92 452.84L484.67 452.34L486.42 451.82L488.17 451.26L489.92 450.67L491.68 450.04L493.43 449.37L495.18 448.66L496.93 447.91L498.68 447.11L500.43 446.27L502.18 445.39L503.93 444.46L505.69 443.47L507.44 442.45L509.19 441.37L510.94 440.24L512.69 439.07L514.44 437.85L516.19 436.58L517.94 435.27L519.70 433.92L521.45 432.53L523.20 431.09L524.95 429.62L526.70 428.11L528.45 426.56L530.20 424.98L531.95 423.36L533.71 421.71L535.46 420.02L537.21 418.30L538.96 416.55L540.71 414.78L542.46 412.97L544.21 411.13L545.96 409.26L547.72 407.35L549.47 405.39L551.22 403.40L552.97 401.36L554.72 399.26L556.47 397.10L558.22 394.86L559.97 392.54L561.73 390.13L563.48 387.61L565.23 385.02L566.98 382.38L568.73 379.68L570.48 376.97L572.23 374.25L573.98 371.55L575.74 368.88L577.49 366.23L579.24 363.63L580.99 361.06L582.74 358.53L584.49 356.05L586.24 353.61L587.99 351.23L589.75 348.88L591.50 346.58L593.25 344.30L595.00 342.03L595.00 358.20L593.25 360.04L591.50 361.90L589.75 363.79L587.99 365.72L586.24 367.70L584.49 369.73L582.74 371.82L580.99 373.95L579.24 376.13L577.49 378.36L575.74 380.64L573.98 382.95L572.23 385.30L570.48 387.68L568.73 390.06L566.98 392.44L565.23 394.78L563.48 397.08L561.73 399.31L559.97 401.46L558.22 403.53L556.47 405.54L554.72 407.48L552.97 409.37L551.22 411.21L549.47 413.01L547.72 414.76L545.96 416.47L544.21 418.15L542.46 419.79L540.71 421.41L538.96 422.99L537.21 424.55L535.46 426.08L533.71 427.59L531.95 429.06L530.20 430.50L528.45 431.91L526.70 433.29L524.95 434.64L523.20 435.95L521.45 437.23L519.70 438.48L517.94 439.69L516.19 440.86L514.44 442.00L512.69 443.10L510.94 444.16L509.19 445.18L507.44 446.16L505.69 447.10L503.93 448.00L502.18 448.86L500.43 449.68L498.68 450.46L496.93 451.22L495.18 451.93L493.43 452.62L491.68 453.28L489.92 453.90L488.17 454.49L486.42 455.05L484.67 455.58L482.92 456.07L481.17 456.54L479.42 456.97L477.67 457.38L475.91 457.75L474.16 458.10L472.41 458.42L470.66 458.72L468.91 458.99L467.16 459.23L465.41 459.45L463.66 459.65L461.90 459.83L460.15 459.99L458.40 460.12L456.65 460.24L454.90 460.34L453.15 460.43L451.40 460.50L449.65 460.56L447.89 460.60L446.14 460.63L444.39 460.66L442.64 460.67L440.89 460.67L439.14 460.67L437.39 460.66L435.64 460.65L433.88 460.63L432.13 460.61L430.38 460.59L428.63 460.57L426.88 460.55L425.13 460.53L423.38 460.51L421.63 460.49L419.87 460.47L418.12 460.46L416.37 460.45L414.62 460.43L412.87 460.42L411.12 460.41L409.37 460.40L407.62 460.39L405.86 460.39L404.11 460.38L402.36 460.38L400.61 460.37L398.86 460.37L397.11 460.37L395.36 460.37L393.61 460.37L391.85 460.37L390.10 460.37L388.35 460.38L386.60 460.38Z" fill="#f09a86" fill-opacity="0.2" stroke="none"/>
<path d="M386.60 456.61L388.35 456.66L390.10 456.71L391.85 456.75L393.61 456.80L395.36 456.85L397.11 456.89L398.86 456.94L400.61 456.98L402.36 457.02L404.11 457.07L405.86 457.11L407.62 457.15L409.37 457.19L411.12 457.23L412.87 457.28L414.62 457.32L416.37 457.36L418.12 457.40L419.87 457.44L421.63 457.48L423.38 457.52L425.13 457.56L426.88 457.60L428.63 457.65L430.38 457.69L432.13 457.73L433.88 457.76L435.64 457.80L437.39 457.83L439.14 457.85L440.89 457.86L442.64 457.87L444.39 457.87L446.14 457.86L447.89 457.83L449.65 457.80L451.40 457.75L453.15 457.69L454.90 457.61L456.65 457.51L458.40 457.39L460.15 457.26L461.90 457.11L463.66 456.93L465.41 456.73L467.16 456.51L468.91 456.27L470.66 456.00L472.41 455.70L474.16 455.38L475.91 455.03L477.67 454.66L479.42 454.25L481.17 453.82L482.92 453.36L484.67 452.87L486.42 452.35L488.17 451.81L489.92 451.23L491.68 450.61L493.43 449.96L495.18 449.28L496.93 448.55L498.68 447.77L500.43 446.96L502.18 446.10L503.93 445.20L505.69 444.24L507.44 443.24L509.19 442.19L510.94 441.09L512.69 439.95L514.44 438.75L516.19 437.52L517.94 436.23L519.70 434.91L521.45 433.54L523.20 432.14L524.95 430.69L526.70 429.21L528.45 427.68L530.20 426.13L531.95 424.54L533.71 422.92L535.46 421.27L537.21 419.58L538.96 417.88L540.71 416.14L542.46 414.38L544.21 412.60L545.96 410.78L547.72 408.93L549.47 407.05L551.22 405.12L552.97 403.16L554.72 401.14L556.47 399.07L558.22 396.93L559.97 394.71L561.73 392.40L563.48 390.01L565.23 387.55L566.98 385.04L568.73 382.50L570.48 379.94L572.23 377.38L573.98 374.85L575.74 372.35L577.49 369.89L579.24 367.47L580.99 365.09L582.74 362.75L584.49 360.45L586.24 358.20L587.99 355.99L589.75 353.82L591.50 351.69L593.25 349.58L595.00 347.47L595.00 363.64L593.25 365.32L591.50 367.01L589.75 368.73L587.99 370.48L586.24 372.28L584.49 374.13L582.74 376.03L580.99 377.98L579.24 379.98L577.49 382.02L575.74 384.11L573.98 386.25L572.23 388.43L570.48 390.65L568.73 392.88L566.98 395.10L565.23 397.31L563.48 399.47L561.73 401.59L559.97 403.63L558.22 405.60L556.47 407.50L554.72 409.36L552.97 411.17L551.22 412.94L549.47 414.66L547.72 416.35L545.96 418.00L544.21 419.62L542.46 421.21L540.71 422.77L538.96 424.31L537.21 425.83L535.46 427.33L533.71 428.80L531.95 430.24L530.20 431.65L528.45 433.03L526.70 434.39L524.95 435.71L523.20 437.00L521.45 438.25L519.70 439.47L517.94 440.65L516.19 441.80L514.44 442.91L512.69 443.98L510.94 445.01L509.19 446.00L507.44 446.95L505.69 447.87L503.93 448.74L502.18 449.57L500.43 450.36L498.68 451.13L496.93 451.85L495.18 452.55L493.43 453.21L491.68 453.85L489.92 454.46L488.17 455.04L486.42 455.59L484.67 456.11L482.92 456.60L481.17 457.06L479.42 457.49L477.67 457.89L475.91 458.27L474.16 458.62L472.41 458.94L470.66 459.24L468.91 459.51L467.16 459.76L465.41 459.98L463.66 460.18L461.90 460.36L460.15 460.52L458.40 460.66L456.65 460.78L454.90 460.88L453.15 460.97L451.40 461.04L449.65 461.10L447.89 461.14L446.14 461.18L444.39 461.20L442.64 461.21L440.89 461.22L439.14 461.21L437.39 461.20L435.64 461.19L433.88 461.17L432.13 461.15L430.38 461.13L428.63 461.11L426.88 461.09L425.13 461.07L423.38 461.05L421.63 461.03L419.87 461.01L418.12 461.00L416.37 460.98L414.62 460.97L412.87 460.96L411.12 460.95L409.37 460.94L407.62 460.93L405.86 460.93L404.11 460.92L402.36 460.92L400.61 460.91L398.86 460.91L397.11 460.91L395.36 460.91L393.61 460.91L391.85 460.91L390.10 460.91L388.35 460.92L386.60 460.92Z" fill="#f09a86" fill-opacity="0.2" stroke="none"/>
<path d="M386.60 467.43L387.91 467.42L389.22 467.41L390.53 467.40L391.84 467.38L393.15 467.37L394.46 467.35L395.77 467.33L397.09 467.31L398.40 467.29L399.71 467.26L401.02 467.23L402.33 467.19L403.64 467.15L404.95 467.11L406.26 467.06L407.57 467.00L408.88 466.94L410.19 466.88L411.50 466.80L412.81 466.72L414.12 466.64L415.44 466.54L416.75 466.44L418.06 466.33L419.37 466.21L420.68 466.08L421.99 465.94L423.30 465.79L424.61 465.63L425.92 465.46L427.23 465.28L428.54 465.09L429.85 464.89L431.16 464.67L432.47 464.44L433.78 464.21L435.10 463.95L436.41 463.69L437.72 463.41L439.03 463.11L440.34 462.81L441.65 462.49L442.96 462.15L444.27 461.80L445.58 461.43L446.89 461.05L448.20 460.65L449.51 460.24L450.82 459.81L452.13 459.36L453.45 458.90L454.76 458.41L456.07 457.91L457.38 457.40L458.69 456.86L460.00 456.30L461.31 455.73L462.62 455.14L463.93 454.52L465.24 453.89L466.55 453.24L467.86 452.56L469.17 451.87L470.48 451.16L471.79 450.43L473.11 449.69L474.42 448.93L475.73 448.16L477.04 447.38L478.35 446.60L479.66 445.80L480.97 445.00L482.28 444.19L483.59 443.38L484.90 442.57L486.21 441.76L487.52 440.95L488.83 440.14L490.14 439.34L491.46 438.54L492.77 437.75L494.08 436.96L495.39 436.17L496.70 435.39L498.01 434.62L499.32 433.84L500.63 433.07L501.94 432.29L503.25 431.52L504.56 430.74L505.87 429.97L507.18 429.19L508.49 428.41L509.81 427.63L511.12 426.84L512.43 426.05L513.74 425.25L515.05 424.44L516.36 423.63L517.67 422.81L518.98 421.98L520.29 421.15L521.60 420.30L522.91 419.44L524.22 418.57L525.53 417.69L526.84 416.80L528.15 415.90L529.47 414.99L530.78 414.07L532.09 413.14L533.40 412.21L534.71 411.26L536.02 410.31L537.33 409.36L538.64 408.40L539.95 407.43L541.26 406.46L542.57 405.49L543.88 404.52L545.19 403.55L546.50 402.58L547.82 401.63L549.13 400.69L550.44 399.75L551.75 398.83L553.06 397.93L554.37 397.04L555.68 396.16L556.99 395.29L558.30 394.45L559.61 393.61L560.92 392.79L562.23 391.99L563.54 391.20L564.85 390.42L566.16 389.66L567.48 388.92L568.79 388.20L570.10 387.49L571.41 386.79L572.72 386.10L574.03 385.43L575.34 384.77L576.65 384.12L577.96 383.47L579.27 382.83L580.58 382.21L581.89 381.58L583.20 380.96L584.51 380.35L585.83 379.74L587.14 379.13L588.45 378.52L589.76 377.91L591.07 377.30L592.38 376.69L593.69 376.09L595.00 375.48" fill="none" stroke="#ae8bcb" stroke-width="1.3" stroke-dasharray="5 4.2" stroke-linejoin="round"/>
<path d="M386.60 462.30L387.91 462.31L389.22 462.31L390.53 462.32L391.84 462.32L393.15 462.32L394.46 462.33L395.77 462.33L397.09 462.33L398.40 462.32L399.71 462.32L401.02 462.31L402.33 462.30L403.64 462.28L404.95 462.27L406.26 462.24L407.57 462.22L408.88 462.19L410.19 462.16L411.50 462.12L412.81 462.07L414.12 462.02L415.44 461.97L416.75 461.91L418.06 461.84L419.37 461.77L420.68 461.69L421.99 461.61L423.30 461.51L424.61 461.41L425.92 461.30L427.23 461.19L428.54 461.06L429.85 460.93L431.16 460.79L432.47 460.64L433.78 460.49L435.10 460.32L436.41 460.15L437.72 459.97L439.03 459.78L440.34 459.59L441.65 459.39L442.96 459.18L444.27 458.96L445.58 458.74L446.89 458.51L448.20 458.27L449.51 458.02L450.82 457.77L452.13 457.51L453.45 457.24L454.76 456.97L456.07 456.69L457.38 456.40L458.69 456.11L460.00 455.81L461.31 455.50L462.62 455.19L463.93 454.87L465.24 454.55L466.55 454.22L467.86 453.88L469.17 453.54L470.48 453.19L471.79 452.84L473.11 452.48L474.42 452.11L475.73 451.74L477.04 451.36L478.35 450.98L479.66 450.59L480.97 450.19L482.28 449.79L483.59 449.38L484.90 448.97L486.21 448.55L487.52 448.12L488.83 447.69L490.14 447.25L491.46 446.81L492.77 446.36L494.08 445.90L495.39 445.43L496.70 444.95L498.01 444.46L499.32 443.95L500.63 443.42L501.94 442.88L503.25 442.31L504.56 441.72L505.87 441.11L507.18 440.47L508.49 439.80L509.81 439.11L511.12 438.38L512.43 437.62L513.74 436.83L515.05 436.00L516.36 435.14L517.67 434.24L518.98 433.30L520.29 432.32L521.60 431.30L522.91 430.23L524.22 429.12L525.53 427.96L526.84 426.76L528.15 425.50L529.47 424.20L530.78 422.85L532.09 421.45L533.40 419.99L534.71 418.49L536.02 416.93L537.33 415.31L538.64 413.64L539.95 411.92L541.26 410.14L542.57 408.30L543.88 406.41L545.19 404.47L546.50 402.48L547.82 400.43L549.13 398.34L550.44 396.21L551.75 394.03L553.06 391.81L554.37 389.56L555.68 387.26L556.99 384.93L558.30 382.57L559.61 380.17L560.92 377.75L562.23 375.29L563.54 372.81L564.85 370.30L566.16 367.77L567.48 365.22L568.79 362.65L570.10 360.07L571.41 357.47L572.72 354.86L574.03 352.25L575.34 349.63L576.65 347.00L577.96 344.37L579.27 341.74L580.58 339.12L581.89 336.49L583.20 333.87L584.51 331.24L585.83 328.62L587.14 326.00L588.45 323.37L589.76 320.75L591.07 318.13L592.38 315.51L593.69 312.89L595.00 310.26" fill="none" stroke="#8f62b5" stroke-width="1.45" stroke-dasharray="5 4.2" stroke-linejoin="round"/>
<path d="M386.60 460.40L387.91 460.38L389.22 460.36L390.53 460.33L391.84 460.31L393.15 460.29L394.46 460.26L395.77 460.23L397.09 460.20L398.40 460.18L399.71 460.14L401.02 460.11L402.33 460.08L403.64 460.04L404.95 460.00L406.26 459.95L407.57 459.91L408.88 459.86L410.19 459.81L411.50 459.75L412.81 459.69L414.12 459.63L415.44 459.57L416.75 459.49L418.06 459.42L419.37 459.34L420.68 459.26L421.99 459.17L423.30 459.07L424.61 458.97L425.92 458.87L427.23 458.76L428.54 458.64L429.85 458.52L431.16 458.39L432.47 458.26L433.78 458.12L435.10 457.98L436.41 457.83L437.72 457.67L439.03 457.52L440.34 457.35L441.65 457.19L442.96 457.02L444.27 456.85L445.58 456.67L446.89 456.49L448.20 456.30L449.51 456.12L450.82 455.93L452.13 455.74L453.45 455.54L454.76 455.34L456.07 455.14L457.38 454.94L458.69 454.74L460.00 454.54L461.31 454.33L462.62 454.12L463.93 453.92L465.24 453.71L466.55 453.50L467.86 453.29L469.17 453.08L470.48 452.86L471.79 452.65L473.11 452.43L474.42 452.21L475.73 451.98L477.04 451.74L478.35 451.50L479.66 451.26L480.97 451.00L482.28 450.74L483.59 450.47L484.90 450.18L486.21 449.89L487.52 449.58L488.83 449.26L490.14 448.93L491.46 448.59L492.77 448.23L494.08 447.85L495.39 447.46L496.70 447.05L498.01 446.62L499.32 446.17L500.63 445.71L501.94 445.22L503.25 444.70L504.56 444.17L505.87 443.61L507.18 443.03L508.49 442.42L509.81 441.78L511.12 441.11L512.43 440.41L513.74 439.68L515.05 438.91L516.36 438.11L517.67 437.27L518.98 436.38L520.29 435.45L521.60 434.48L522.91 433.46L524.22 432.39L525.53 431.27L526.84 430.10L528.15 428.88L529.47 427.61L530.78 426.30L532.09 424.94L533.40 423.54L534.71 422.09L536.02 420.60L537.33 419.07L538.64 417.50L539.95 415.88L541.26 414.23L542.57 412.54L543.88 410.81L545.19 409.05L546.50 407.27L547.82 405.47L549.13 403.64L550.44 401.80L551.75 399.95L553.06 398.09L554.37 396.22L555.68 394.35L556.99 392.47L558.30 390.56L559.61 388.63L560.92 386.68L562.23 384.68L563.54 382.65L564.85 380.57L566.16 378.46L567.48 376.30L568.79 374.09L570.10 371.84L571.41 369.54L572.72 367.19L574.03 364.78L575.34 362.33L576.65 359.83L577.96 357.29L579.27 354.72L580.58 352.11L581.89 349.48L583.20 346.84L584.51 344.18L585.83 341.51L587.14 338.83L588.45 336.15L589.76 333.47L591.07 330.79L592.38 328.11L593.69 325.42L595.00 322.73" fill="none" stroke="#6347a1" stroke-width="1.5" stroke-dasharray="5 4.2" stroke-linejoin="round"/>
<path d="M386.60 458.76L387.91 458.78L389.22 458.80L390.53 458.82L391.84 458.83L393.15 458.85L394.46 458.87L395.77 458.88L397.09 458.90L398.40 458.92L399.71 458.93L401.02 458.95L402.33 458.97L403.64 458.99L404.95 459.00L406.26 459.02L407.57 459.04L408.88 459.06L410.19 459.08L411.50 459.10L412.81 459.12L414.12 459.14L415.44 459.16L416.75 459.18L418.06 459.20L419.37 459.22L420.68 459.24L421.99 459.26L423.30 459.28L424.61 459.31L425.92 459.33L427.23 459.35L428.54 459.38L429.85 459.40L431.16 459.42L432.47 459.45L433.78 459.47L435.10 459.49L436.41 459.50L437.72 459.52L439.03 459.53L440.34 459.54L441.65 459.54L442.96 459.54L444.27 459.53L445.58 459.52L446.89 459.51L448.20 459.48L449.51 459.45L450.82 459.41L452.13 459.37L453.45 459.31L454.76 459.25L456.07 459.18L457.38 459.10L458.69 459.01L460.00 458.90L461.31 458.79L462.62 458.66L463.93 458.53L465.24 458.38L466.55 458.22L467.86 458.04L469.17 457.85L470.48 457.65L471.79 457.43L473.11 457.20L474.42 456.95L475.73 456.69L477.04 456.41L478.35 456.12L479.66 455.81L480.97 455.49L482.28 455.15L483.59 454.80L484.90 454.42L486.21 454.04L487.52 453.63L488.83 453.21L490.14 452.77L491.46 452.31L492.77 451.84L494.08 451.34L495.39 450.83L496.70 450.30L498.01 449.74L499.32 449.17L500.63 448.57L501.94 447.95L503.25 447.31L504.56 446.64L505.87 445.95L507.18 445.24L508.49 444.50L509.81 443.73L511.12 442.94L512.43 442.13L513.74 441.29L515.05 440.43L516.36 439.54L517.67 438.64L518.98 437.71L520.29 436.75L521.60 435.78L522.91 434.79L524.22 433.77L525.53 432.74L526.84 431.68L528.15 430.61L529.47 429.51L530.78 428.40L532.09 427.27L533.40 426.13L534.71 424.97L536.02 423.79L537.33 422.60L538.64 421.39L539.95 420.17L541.26 418.94L542.57 417.69L543.88 416.43L545.19 415.15L546.50 413.85L547.82 412.54L549.13 411.21L550.44 409.85L551.75 408.47L553.06 407.07L554.37 405.64L555.68 404.18L556.99 402.70L558.30 401.17L559.61 399.61L560.92 398.00L562.23 396.35L563.54 394.66L564.85 392.93L566.16 391.17L567.48 389.40L568.79 387.61L570.10 385.82L571.41 384.03L572.72 382.25L574.03 380.49L575.34 378.75L576.65 377.04L577.96 375.35L579.27 373.68L580.58 372.04L581.89 370.42L583.20 368.83L584.51 367.27L585.83 365.73L587.14 364.21L588.45 362.73L589.76 361.26L591.07 359.82L592.38 358.39L593.69 356.97L595.00 355.56" fill="none" stroke="#e8606e" stroke-width="1.1" stroke-linejoin="round"/>
<path d="M386.60 458.23L387.91 458.24L389.22 458.26L390.53 458.28L391.84 458.29L393.15 458.31L394.46 458.33L395.77 458.34L397.09 458.36L398.40 458.38L399.71 458.40L401.02 458.41L402.33 458.43L403.64 458.45L404.95 458.47L406.26 458.48L407.57 458.50L408.88 458.52L410.19 458.54L411.50 458.56L412.81 458.58L414.12 458.60L415.44 458.62L416.75 458.64L418.06 458.66L419.37 458.68L420.68 458.70L421.99 458.72L423.30 458.74L424.61 458.77L425.92 458.79L427.23 458.81L428.54 458.84L429.85 458.86L431.16 458.88L432.47 458.91L433.78 458.93L435.10 458.95L436.41 458.96L437.72 458.98L439.03 458.99L440.34 459.00L441.65 459.00L442.96 459.00L444.27 458.99L445.58 458.98L446.89 458.96L448.20 458.94L449.51 458.91L450.82 458.87L452.13 458.83L453.45 458.77L454.76 458.71L456.07 458.64L457.38 458.56L458.69 458.47L460.00 458.37L461.31 458.26L462.62 458.13L463.93 458.00L465.24 457.85L466.55 457.69L467.86 457.51L469.17 457.33L470.48 457.12L471.79 456.91L473.11 456.68L474.42 456.43L475.73 456.17L477.04 455.90L478.35 455.60L479.66 455.30L480.97 454.97L482.28 454.63L483.59 454.27L484.90 453.89L486.21 453.50L487.52 453.09L488.83 452.66L490.14 452.21L491.46 451.74L492.77 451.25L494.08 450.74L495.39 450.21L496.70 449.66L498.01 449.09L499.32 448.50L500.63 447.88L501.94 447.24L503.25 446.58L504.56 445.89L505.87 445.18L507.18 444.45L508.49 443.69L509.81 442.90L511.12 442.09L512.43 441.25L513.74 440.39L515.05 439.51L516.36 438.61L517.67 437.68L518.98 436.73L520.29 435.76L521.60 434.76L522.91 433.75L524.22 432.71L525.53 431.66L526.84 430.58L528.15 429.49L529.47 428.37L530.78 427.24L532.09 426.09L533.40 424.92L534.71 423.74L536.02 422.53L537.33 421.31L538.64 420.08L539.95 418.82L541.26 417.56L542.57 416.27L543.88 414.97L545.19 413.65L546.50 412.31L547.82 410.95L549.13 409.56L550.44 408.16L551.75 406.72L553.06 405.26L554.37 403.77L555.68 402.25L556.99 400.70L558.30 399.10L559.61 397.47L560.92 395.78L562.23 394.04L563.54 392.25L564.85 390.43L566.16 388.57L567.48 386.69L568.79 384.79L570.10 382.89L571.41 380.98L572.72 379.08L574.03 377.19L575.34 375.32L576.65 373.47L577.96 371.64L579.27 369.84L580.58 368.06L581.89 366.30L583.20 364.57L584.51 362.86L585.83 361.19L587.14 359.54L588.45 357.92L589.76 356.32L591.07 354.75L592.38 353.20L593.69 351.65L595.00 350.11" fill="none" stroke="#cf1f36" stroke-width="1.55" stroke-linejoin="round"/>
<line x1="490.60" y1="303.20" x2="490.60" y2="480.70" stroke="#262626" stroke-width="1.3" stroke-dasharray="3.3 2.9" stroke-dashoffset="2.50"/>
<path d="M386.60 303.20 L386.60 480.70 L595.00 480.70" fill="none" stroke="#7c7c7c" stroke-width="1.25" stroke-linejoin="round" stroke-linecap="round"/>
<line x1="385.60" y1="446.10" x2="386.60" y2="446.10" stroke="#707070" stroke-width="0.8"/>
<text transform="translate(384.20 448.20) scale(1 1.05)" text-anchor="end" font-size="8.85" fill="#3c3c3c">0</text>
<line x1="385.60" y1="392.20" x2="386.60" y2="392.20" stroke="#707070" stroke-width="0.8"/>
<text transform="translate(384.20 394.30) scale(1 1.05)" text-anchor="end" font-size="8.85" fill="#3c3c3c">2</text>
<line x1="385.60" y1="338.30" x2="386.60" y2="338.30" stroke="#707070" stroke-width="0.8"/>
<text transform="translate(384.20 340.40) scale(1 1.05)" text-anchor="end" font-size="8.85" fill="#3c3c3c">4</text>
<line x1="427.60" y1="480.70" x2="427.60" y2="481.70" stroke="#707070" stroke-width="0.8"/>
<text transform="translate(424.85 489.60) scale(1 1.05)" text-anchor="middle" font-size="8.85" fill="#3c3c3c">&#8722;10</text>
<line x1="490.60" y1="480.70" x2="490.60" y2="481.70" stroke="#707070" stroke-width="0.8"/>
<text transform="translate(490.10 489.60) scale(1 1.05)" text-anchor="middle" font-size="8.85" fill="#3c3c3c">0</text>
<line x1="553.60" y1="480.70" x2="553.60" y2="481.70" stroke="#707070" stroke-width="0.8"/>
<text transform="translate(555.75 489.60) scale(1 1.05)" text-anchor="middle" font-size="8.85" fill="#3c3c3c">10</text>
<line x1="602.40" y1="310.70" x2="607.40" y2="310.70" stroke="#8f62b5" stroke-width="1.5" stroke-dasharray="1.7 1.2"/>
<text transform="translate(610.00 313.00) scale(1 1.04)" font-size="8.95" fill="#231f20" stroke="#231f20" stroke-width="0.18">Tau-PET</text>
<text transform="translate(610.00 323.40) scale(1 1.04)" font-size="8.95" fill="#231f20" stroke="#231f20" stroke-width="0.18">intermediate ROI</text>
<line x1="602.40" y1="333.70" x2="607.40" y2="333.70" stroke="#6347a1" stroke-width="1.5" stroke-dasharray="1.7 1.2"/>
<text transform="translate(610.00 335.20) scale(1 1.04)" font-size="8.95" fill="#231f20" stroke="#231f20" stroke-width="0.18">Tau-PET late ROI</text>
<line x1="602.40" y1="350.00" x2="607.40" y2="350.00" stroke="#cf1f36" stroke-width="1.6"/>
<text transform="translate(610.00 352.10) scale(1 1.04)" font-size="8.95" fill="#231f20" stroke="#231f20" stroke-width="0.18">eMTBR-tau243</text>
<line x1="602.40" y1="361.20" x2="607.40" y2="361.20" stroke="#e8606e" stroke-width="1.6"/>
<text transform="translate(610.00 363.40) scale(1 1.04)" font-size="8.95" fill="#231f20" stroke="#231f20" stroke-width="0.18">eMTBR-tau243/</text>
<text transform="translate(610.00 373.80) scale(1 1.04)" font-size="8.95" fill="#231f20" stroke="#231f20" stroke-width="0.18">np-tau mid-region</text>
<line x1="602.40" y1="384.60" x2="607.40" y2="384.60" stroke="#ae8bcb" stroke-width="1.5" stroke-dasharray="1.7 1.2"/>
<text transform="translate(610.00 386.70) scale(1 1.04)" font-size="8.95" fill="#231f20" stroke="#231f20" stroke-width="0.18">Tau-PET early ROI</text>
<text transform="translate(359.00 392.60) rotate(-90)" text-anchor="middle" font-size="11.1" font-weight="bold" fill="#231f20" stroke="#231f20" stroke-width="0.35">Biomarker abnormality</text>
<text transform="translate(371.90 391.20) rotate(-90)" text-anchor="middle" font-size="11.1" font-weight="bold" fill="#231f20" stroke="#231f20" stroke-width="0.35">(z&#8722;score)</text>
<text transform="translate(493.20 505.80) scale(1 0.93)" text-anchor="middle" font-size="10.38" font-weight="bold" fill="#231f20" stroke="#231f20" stroke-width="0.4">Estimated Tau-PET+ years</text>
</svg>
</body></html>
